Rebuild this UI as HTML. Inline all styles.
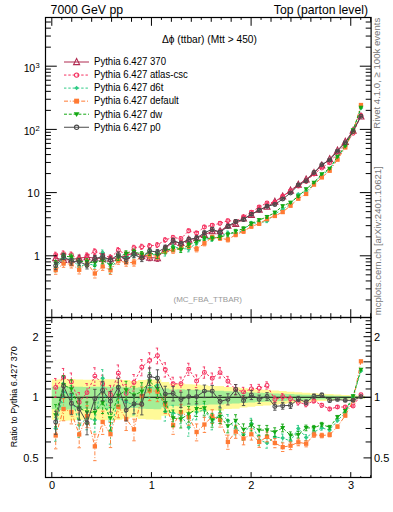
<!DOCTYPE html><html><head><meta charset="utf-8"><style>html,body{margin:0;padding:0;background:#fff;overflow:hidden}svg{display:block}</style></head><body><svg width="393" height="512" viewBox="0 0 393 512">
<defs><clipPath id="cm"><rect x="45.5" y="17.5" width="325.6" height="300.0"/></clipPath><clipPath id="cr"><rect x="45.5" y="317.5" width="325.6" height="160.0"/></clipPath></defs>
<rect width="393" height="512" fill="#fff"/>
<g clip-path="url(#cr)">
<polygon points="51.80,379.38 59.63,379.38 59.63,378.83 67.45,378.83 67.45,378.92 75.28,378.92 75.28,379.38 83.11,379.38 83.11,379.64 90.93,379.64 90.93,379.38 98.76,379.38 98.76,379.20 106.59,379.20 106.59,379.20 114.41,379.20 114.41,379.47 122.24,379.47 122.24,380.05 130.06,380.05 130.06,380.98 137.89,380.98 137.89,379.97 145.72,379.97 145.72,379.55 153.54,379.55 153.54,379.38 161.37,379.38 161.37,381.99 169.20,381.99 169.20,383.66 177.02,383.66 177.02,383.39 184.85,383.39 184.85,384.13 192.68,384.13 192.68,384.45 200.50,384.45 200.50,385.17 208.33,385.17 208.33,385.89 216.16,385.89 216.16,385.91 223.98,385.91 223.98,386.93 231.81,386.93 231.81,387.24 239.64,387.24 239.64,388.14 247.46,388.14 247.46,388.70 255.29,388.70 255.29,389.43 263.12,389.43 263.12,389.84 270.94,389.84 270.94,390.47 278.77,390.47 278.77,391.06 286.59,391.06 286.59,391.68 294.42,391.68 294.42,392.24 302.25,392.24 302.25,392.68 310.07,392.68 310.07,393.19 317.90,393.19 317.90,393.70 325.73,393.70 325.73,394.09 333.55,394.09 333.55,394.54 341.38,394.54 341.38,394.94 349.21,394.94 349.21,395.37 357.03,395.37 357.03,395.81 364.86,395.81 364.86,398.82 357.03,398.82 357.03,399.27 349.21,399.27 349.21,399.72 341.38,399.72 341.38,400.15 333.55,400.15 333.55,400.63 325.73,400.63 325.73,401.06 317.90,401.06 317.90,401.62 310.07,401.62 310.07,402.17 302.25,402.17 302.25,402.67 294.42,402.67 294.42,403.31 286.59,403.31 286.59,404.02 278.77,404.02 278.77,404.71 270.94,404.71 270.94,405.46 263.12,405.46 263.12,405.95 255.29,405.95 255.29,406.85 247.46,406.85 247.46,407.54 239.64,407.54 239.64,408.67 231.81,408.67 231.81,409.07 223.98,409.07 223.98,410.40 216.16,410.40 216.16,410.42 208.33,410.42 208.33,411.39 200.50,411.39 200.50,412.37 192.68,412.37 192.68,412.82 184.85,412.82 184.85,413.85 177.02,413.85 177.02,413.47 169.20,413.47 169.20,415.87 161.37,415.87 161.37,419.86 153.54,419.86 153.54,419.59 145.72,419.59 145.72,418.94 137.89,418.94 137.89,417.38 130.06,417.38 130.06,418.82 122.24,418.82 122.24,419.73 114.41,419.73 114.41,420.15 106.59,420.15 106.59,420.15 98.76,420.15 98.76,419.86 90.93,419.86 90.93,419.46 83.11,419.46 83.11,419.86 75.28,419.86 75.28,420.60 67.45,420.60 67.45,420.75 59.63,420.75 59.63,419.86 51.80,419.86" fill="#fffa98" stroke="none"/>
<polygon points="51.80,386.82 59.63,386.82 59.63,386.48 67.45,386.48 67.45,386.54 75.28,386.54 75.28,386.82 83.11,386.82 83.11,386.97 90.93,386.97 90.93,386.82 98.76,386.82 98.76,386.71 106.59,386.71 106.59,386.71 114.41,386.71 114.41,386.87 122.24,386.87 122.24,387.22 130.06,387.22 130.06,387.79 137.89,387.79 137.89,387.17 145.72,387.17 145.72,386.92 153.54,386.92 153.54,386.82 161.37,386.82 161.37,388.40 169.20,388.40 169.20,389.40 177.02,389.40 177.02,389.24 184.85,389.24 184.85,389.68 192.68,389.68 192.68,389.87 200.50,389.87 200.50,390.30 208.33,390.30 208.33,390.73 216.16,390.73 216.16,390.74 223.98,390.74 223.98,391.34 231.81,391.34 231.81,391.52 239.64,391.52 239.64,392.05 247.46,392.05 247.46,392.38 255.29,392.38 255.29,392.80 263.12,392.80 263.12,393.04 270.94,393.04 270.94,393.41 278.77,393.41 278.77,393.75 286.59,393.75 286.59,394.11 294.42,394.11 294.42,394.43 302.25,394.43 302.25,394.69 310.07,394.69 310.07,394.97 317.90,394.97 317.90,395.26 325.73,395.26 325.73,395.49 333.55,395.49 333.55,395.75 341.38,395.75 341.38,395.97 349.21,395.97 349.21,396.22 357.03,396.22 357.03,396.46 364.86,396.46 364.86,398.15 357.03,398.15 357.03,398.40 349.21,398.40 349.21,398.65 341.38,398.65 341.38,398.88 333.55,398.88 333.55,399.15 325.73,399.15 325.73,399.38 317.90,399.38 317.90,399.69 310.07,399.69 310.07,400.00 302.25,400.00 302.25,400.27 294.42,400.27 294.42,400.61 286.59,400.61 286.59,401.00 278.77,401.00 278.77,401.37 270.94,401.37 270.94,401.77 263.12,401.77 263.12,402.04 255.29,402.04 255.29,402.52 247.46,402.52 247.46,402.88 239.64,402.88 239.64,403.49 231.81,403.49 231.81,403.70 223.98,403.70 223.98,404.39 216.16,404.39 216.16,404.41 208.33,404.41 208.33,404.91 200.50,404.91 200.50,405.42 192.68,405.42 192.68,405.65 184.85,405.65 184.85,406.18 177.02,406.18 177.02,405.98 169.20,405.98 169.20,407.21 161.37,407.21 161.37,409.21 153.54,409.21 153.54,409.08 145.72,409.08 145.72,408.75 137.89,408.75 137.89,407.98 130.06,407.98 130.06,408.69 122.24,408.69 122.24,409.14 114.41,409.14 114.41,409.35 106.59,409.35 106.59,409.35 98.76,409.35 98.76,409.21 90.93,409.21 90.93,409.01 83.11,409.01 83.11,409.21 75.28,409.21 75.28,409.58 67.45,409.58 67.45,409.65 59.63,409.65 59.63,409.21 51.80,409.21" fill="#a4ee96" stroke="none"/>
</g>
<line x1="45.5" y1="397.30" x2="371.1" y2="397.30" stroke="#000" stroke-width="1.1"/>
<g clip-path="url(#cr)"><polyline points="55.71,387.40 63.54,377.20 71.37,381.90 79.19,402.20 87.02,392.60 94.85,376.10 102.67,384.00 110.50,394.80 118.33,373.20 126.15,393.40 133.98,382.40 141.80,367.30 149.63,360.40 157.46,355.60 165.28,369.60 173.11,383.80 180.94,383.80 188.76,369.10 196.59,381.00 204.42,372.40 212.24,378.30 220.07,372.60 227.90,381.30 235.72,389.50 243.55,391.90 251.38,388.90 259.20,388.20 267.03,385.40 274.86,399.50 282.68,396.80 290.51,398.90 298.33,402.30 306.16,404.30 313.99,400.90 321.81,405.30 329.64,409.00 337.47,407.00 345.29,407.00 353.12,406.00 360.95,394.80" fill="none" stroke="#f5305f" stroke-width="1" stroke-dasharray="2.4 1.9"/><path d="M55.71,378.48V397.34M54.01,378.48H57.41M54.01,397.34H57.41M63.54,368.48V386.89M61.84,368.48H65.24M61.84,386.89H65.24M71.37,373.00V391.80M69.67,373.00H73.07M69.67,391.80H73.07M79.19,392.53V413.08M77.49,392.53H80.89M77.49,413.08H80.89M87.02,383.56V402.69M85.32,383.56H88.72M85.32,402.69H88.72M94.85,367.71V385.38M93.15,367.71H96.55M93.15,385.38H96.55M102.67,375.15V393.85M100.97,375.15H104.37M100.97,393.85H104.37M110.50,385.41V405.32M108.80,385.41H112.20M108.80,405.32H112.20M118.33,364.98V382.27M116.63,364.98H120.03M116.63,382.27H120.03M126.15,384.54V403.26M124.45,384.54H127.85M124.45,403.26H127.85M133.98,374.53V391.05M132.28,374.53H135.68M132.28,391.05H135.68M141.80,359.58V375.77M140.10,359.58H143.50M140.10,375.77H143.50M149.63,352.78V368.75M147.93,352.78H151.33M147.93,368.75H151.33M157.46,348.10V363.81M155.76,348.10H159.16M155.76,363.81H159.16M165.28,362.74V377.05M163.58,362.74H166.98M163.58,377.05H166.98M173.11,377.22V390.91M171.41,377.22H174.81M171.41,390.91H174.81M180.94,377.08V391.07M179.24,377.08H182.64M179.24,391.07H182.64M188.76,363.25V375.37M187.06,363.25H190.46M187.06,375.37H190.46M196.59,374.91V387.54M194.89,374.91H198.29M194.89,387.54H198.29M204.42,366.93V378.23M202.72,366.93H206.12M202.72,378.23H206.12M212.24,373.00V383.94M210.54,373.00H213.94M210.54,383.94H213.94M220.07,367.47V378.05M218.37,367.47H221.77M218.37,378.05H221.77M227.90,376.41V386.48M226.20,376.41H229.60M226.20,386.48H229.60M235.72,384.54V394.75M234.02,384.54H237.42M234.02,394.75H237.42M243.55,387.34V396.71M241.85,387.34H245.25M241.85,396.71H245.25M251.38,384.69V393.32M249.68,384.69H253.08M249.68,393.32H253.08M259.20,384.37V392.20M257.50,384.37H260.90M257.50,392.20H260.90M267.03,381.84V389.12M265.33,381.84H268.73M265.33,389.12H268.73M274.86,395.97V403.18M273.16,395.97H276.56M273.16,403.18H276.56M282.68,393.63V400.09M280.98,393.63H284.38M280.98,400.09H284.38M290.51,396.02V401.88M288.81,396.02H292.21M288.81,401.88H292.21M298.33,399.66V405.02M296.63,399.66H300.03M296.63,405.02H300.03M306.16,401.87V406.80M304.46,401.87H307.86M304.46,406.80H307.86M313.99,398.78V403.08M312.29,398.78H315.69M312.29,403.08H315.69M321.81,403.40V407.25M320.11,403.40H323.51M320.11,407.25H323.51M329.64,407.27V410.77M327.94,407.27H331.34M327.94,410.77H331.34M337.47,405.53V408.49M335.77,405.53H339.17M335.77,408.49H339.17M345.29,405.75V408.27M343.59,405.75H346.99M343.59,408.27H346.99M353.12,404.98V407.03M351.42,404.98H354.82M351.42,407.03H354.82M360.95,394.06V395.54M359.25,394.06H362.65M359.25,395.54H362.65" fill="none" stroke="#f5305f" stroke-width="0.9" stroke-dasharray="2.4 1.9"/><circle cx="55.71" cy="387.40" r="1.95" fill="none" stroke="#f5305f" stroke-width="1.05"/><circle cx="63.54" cy="377.20" r="1.95" fill="none" stroke="#f5305f" stroke-width="1.05"/><circle cx="71.37" cy="381.90" r="1.95" fill="none" stroke="#f5305f" stroke-width="1.05"/><circle cx="79.19" cy="402.20" r="1.95" fill="none" stroke="#f5305f" stroke-width="1.05"/><circle cx="87.02" cy="392.60" r="1.95" fill="none" stroke="#f5305f" stroke-width="1.05"/><circle cx="94.85" cy="376.10" r="1.95" fill="none" stroke="#f5305f" stroke-width="1.05"/><circle cx="102.67" cy="384.00" r="1.95" fill="none" stroke="#f5305f" stroke-width="1.05"/><circle cx="110.50" cy="394.80" r="1.95" fill="none" stroke="#f5305f" stroke-width="1.05"/><circle cx="118.33" cy="373.20" r="1.95" fill="none" stroke="#f5305f" stroke-width="1.05"/><circle cx="126.15" cy="393.40" r="1.95" fill="none" stroke="#f5305f" stroke-width="1.05"/><circle cx="133.98" cy="382.40" r="1.95" fill="none" stroke="#f5305f" stroke-width="1.05"/><circle cx="141.80" cy="367.30" r="1.95" fill="none" stroke="#f5305f" stroke-width="1.05"/><circle cx="149.63" cy="360.40" r="1.95" fill="none" stroke="#f5305f" stroke-width="1.05"/><circle cx="157.46" cy="355.60" r="1.95" fill="none" stroke="#f5305f" stroke-width="1.05"/><circle cx="165.28" cy="369.60" r="1.95" fill="none" stroke="#f5305f" stroke-width="1.05"/><circle cx="173.11" cy="383.80" r="1.95" fill="none" stroke="#f5305f" stroke-width="1.05"/><circle cx="180.94" cy="383.80" r="1.95" fill="none" stroke="#f5305f" stroke-width="1.05"/><circle cx="188.76" cy="369.10" r="1.95" fill="none" stroke="#f5305f" stroke-width="1.05"/><circle cx="196.59" cy="381.00" r="1.95" fill="none" stroke="#f5305f" stroke-width="1.05"/><circle cx="204.42" cy="372.40" r="1.95" fill="none" stroke="#f5305f" stroke-width="1.05"/><circle cx="212.24" cy="378.30" r="1.95" fill="none" stroke="#f5305f" stroke-width="1.05"/><circle cx="220.07" cy="372.60" r="1.95" fill="none" stroke="#f5305f" stroke-width="1.05"/><circle cx="227.90" cy="381.30" r="1.95" fill="none" stroke="#f5305f" stroke-width="1.05"/><circle cx="235.72" cy="389.50" r="1.95" fill="none" stroke="#f5305f" stroke-width="1.05"/><circle cx="243.55" cy="391.90" r="1.95" fill="none" stroke="#f5305f" stroke-width="1.05"/><circle cx="251.38" cy="388.90" r="1.95" fill="none" stroke="#f5305f" stroke-width="1.05"/><circle cx="259.20" cy="388.20" r="1.95" fill="none" stroke="#f5305f" stroke-width="1.05"/><circle cx="267.03" cy="385.40" r="1.95" fill="none" stroke="#f5305f" stroke-width="1.05"/><circle cx="274.86" cy="399.50" r="1.95" fill="none" stroke="#f5305f" stroke-width="1.05"/><circle cx="282.68" cy="396.80" r="1.95" fill="none" stroke="#f5305f" stroke-width="1.05"/><circle cx="290.51" cy="398.90" r="1.95" fill="none" stroke="#f5305f" stroke-width="1.05"/><circle cx="298.33" cy="402.30" r="1.95" fill="none" stroke="#f5305f" stroke-width="1.05"/><circle cx="306.16" cy="404.30" r="1.95" fill="none" stroke="#f5305f" stroke-width="1.05"/><circle cx="313.99" cy="400.90" r="1.95" fill="none" stroke="#f5305f" stroke-width="1.05"/><circle cx="321.81" cy="405.30" r="1.95" fill="none" stroke="#f5305f" stroke-width="1.05"/><circle cx="329.64" cy="409.00" r="1.95" fill="none" stroke="#f5305f" stroke-width="1.05"/><circle cx="337.47" cy="407.00" r="1.95" fill="none" stroke="#f5305f" stroke-width="1.05"/><circle cx="345.29" cy="407.00" r="1.95" fill="none" stroke="#f5305f" stroke-width="1.05"/><circle cx="353.12" cy="406.00" r="1.95" fill="none" stroke="#f5305f" stroke-width="1.05"/><circle cx="360.95" cy="394.80" r="1.95" fill="none" stroke="#f5305f" stroke-width="1.05"/></g>
<g clip-path="url(#cr)"><polyline points="55.71,428.50 63.54,392.00 71.37,395.00 79.19,425.00 87.02,418.00 94.85,420.00 102.67,378.20 110.50,431.00 118.33,398.00 126.15,402.00 133.98,405.00 141.80,395.00 149.63,388.00 157.46,385.00 165.28,411.50 173.11,413.00 180.94,415.00 188.76,427.30 196.59,412.00 204.42,410.00 212.24,422.50 220.07,413.00 227.90,420.60 235.72,428.20 243.55,434.30 251.38,423.40 259.20,440.00 267.03,443.00 274.86,437.00 282.68,438.00 290.51,441.00 298.33,428.50 306.16,437.50 313.99,432.00 321.81,428.00 329.64,430.00 337.47,420.40 345.29,413.00 353.12,397.00 360.95,371.00" fill="none" stroke="#2ecb85" stroke-width="1" stroke-dasharray="2.4 1.9"/><path d="M55.71,417.36V441.28M54.01,417.36H57.41M54.01,441.28H57.41M63.54,382.55V402.59M61.84,382.55H65.24M61.84,402.59H65.24M71.37,385.45V405.72M69.67,385.45H73.07M69.67,405.72H73.07M79.19,414.06V437.50M77.49,414.06H80.89M77.49,437.50H80.89M87.02,407.63V429.77M85.32,407.63H88.72M85.32,429.77H88.72M94.85,409.35V432.13M93.15,409.35H96.55M93.15,432.13H96.55M102.67,369.62V387.71M100.97,369.62H104.37M100.97,387.71H104.37M110.50,419.59V444.13M108.80,419.59H112.20M108.80,444.13H112.20M118.33,388.59V408.54M116.63,388.59H120.03M116.63,408.54H120.03M126.15,392.71V412.39M124.45,392.71H127.85M124.45,412.39H127.85M133.98,396.09V414.92M132.28,396.09H135.68M132.28,414.92H135.68M141.80,386.02V405.01M140.10,386.02H143.50M140.10,405.01H143.50M149.63,379.14V397.86M147.93,379.14H151.33M147.93,397.86H151.33M157.46,376.19V394.80M155.76,376.19H159.16M155.76,394.80H159.16M165.28,402.87V421.08M163.58,402.87H166.98M163.58,421.08H166.98M173.11,405.28V421.47M171.41,405.28H174.81M171.41,421.47H174.81M180.94,407.03V423.77M179.24,407.03H182.64M179.24,423.77H182.64M188.76,419.24V436.18M187.06,419.24H190.46M187.06,436.18H190.46M196.59,404.78V419.87M194.89,404.78H198.29M194.89,419.87H198.29M204.42,403.27V417.29M202.72,403.27H206.12M202.72,417.29H206.12M212.24,415.73V429.84M210.54,415.73H213.94M210.54,429.84H213.94M220.07,406.59V419.92M218.37,406.59H221.77M218.37,419.92H221.77M227.90,414.52V427.13M226.20,414.52H229.60M226.20,427.13H229.60M235.72,422.06V434.81M234.02,422.06H237.42M234.02,434.81H237.42M243.55,428.53V440.48M241.85,428.53H245.25M241.85,440.48H245.25M251.38,418.30V428.81M249.68,418.30H253.08M249.68,428.81H253.08M259.20,434.89V445.42M257.50,434.89H260.90M257.50,445.42H260.90M267.03,438.08V448.21M265.33,438.08H268.73M265.33,448.21H268.73M274.86,432.65V441.58M273.16,432.65H276.56M273.16,441.58H276.56M282.68,434.01V442.18M280.98,434.01H284.38M280.98,442.18H284.38M290.51,437.35V444.81M288.81,437.35H292.21M288.81,444.81H292.21M298.33,425.44V431.67M296.63,425.44H300.03M296.63,431.67H300.03M306.16,434.57V440.53M304.46,434.57H307.86M304.46,440.53H307.86M313.99,429.47V434.61M312.29,429.47H315.69M312.29,434.61H315.69M321.81,425.84V430.22M320.11,425.84H323.51M320.11,430.22H323.51M329.64,428.05V431.99M327.94,428.05H331.34M327.94,431.99H331.34M337.47,418.82V422.01M335.77,418.82H339.17M335.77,422.01H339.17M345.29,411.70V414.32M343.59,411.70H346.99M343.59,414.32H346.99M353.12,396.03V397.98M351.42,396.03H354.82M351.42,397.98H354.82M360.95,370.36V371.65M359.25,370.36H362.65M359.25,371.65H362.65" fill="none" stroke="#2ecb85" stroke-width="0.9" stroke-dasharray="2.4 1.9"/><path d="M55.71,426.15 L58.06,428.50 L55.71,430.85 L53.36,428.50 Z" fill="#2ecb85"/><path d="M63.54,389.65 L65.89,392.00 L63.54,394.35 L61.19,392.00 Z" fill="#2ecb85"/><path d="M71.37,392.65 L73.72,395.00 L71.37,397.35 L69.02,395.00 Z" fill="#2ecb85"/><path d="M79.19,422.65 L81.54,425.00 L79.19,427.35 L76.84,425.00 Z" fill="#2ecb85"/><path d="M87.02,415.65 L89.37,418.00 L87.02,420.35 L84.67,418.00 Z" fill="#2ecb85"/><path d="M94.85,417.65 L97.20,420.00 L94.85,422.35 L92.50,420.00 Z" fill="#2ecb85"/><path d="M102.67,375.85 L105.02,378.20 L102.67,380.55 L100.32,378.20 Z" fill="#2ecb85"/><path d="M110.50,428.65 L112.85,431.00 L110.50,433.35 L108.15,431.00 Z" fill="#2ecb85"/><path d="M118.33,395.65 L120.68,398.00 L118.33,400.35 L115.98,398.00 Z" fill="#2ecb85"/><path d="M126.15,399.65 L128.50,402.00 L126.15,404.35 L123.80,402.00 Z" fill="#2ecb85"/><path d="M133.98,402.65 L136.33,405.00 L133.98,407.35 L131.63,405.00 Z" fill="#2ecb85"/><path d="M141.80,392.65 L144.15,395.00 L141.80,397.35 L139.45,395.00 Z" fill="#2ecb85"/><path d="M149.63,385.65 L151.98,388.00 L149.63,390.35 L147.28,388.00 Z" fill="#2ecb85"/><path d="M157.46,382.65 L159.81,385.00 L157.46,387.35 L155.11,385.00 Z" fill="#2ecb85"/><path d="M165.28,409.15 L167.63,411.50 L165.28,413.85 L162.93,411.50 Z" fill="#2ecb85"/><path d="M173.11,410.65 L175.46,413.00 L173.11,415.35 L170.76,413.00 Z" fill="#2ecb85"/><path d="M180.94,412.65 L183.29,415.00 L180.94,417.35 L178.59,415.00 Z" fill="#2ecb85"/><path d="M188.76,424.95 L191.11,427.30 L188.76,429.65 L186.41,427.30 Z" fill="#2ecb85"/><path d="M196.59,409.65 L198.94,412.00 L196.59,414.35 L194.24,412.00 Z" fill="#2ecb85"/><path d="M204.42,407.65 L206.77,410.00 L204.42,412.35 L202.07,410.00 Z" fill="#2ecb85"/><path d="M212.24,420.15 L214.59,422.50 L212.24,424.85 L209.89,422.50 Z" fill="#2ecb85"/><path d="M220.07,410.65 L222.42,413.00 L220.07,415.35 L217.72,413.00 Z" fill="#2ecb85"/><path d="M227.90,418.25 L230.25,420.60 L227.90,422.95 L225.55,420.60 Z" fill="#2ecb85"/><path d="M235.72,425.85 L238.07,428.20 L235.72,430.55 L233.37,428.20 Z" fill="#2ecb85"/><path d="M243.55,431.95 L245.90,434.30 L243.55,436.65 L241.20,434.30 Z" fill="#2ecb85"/><path d="M251.38,421.05 L253.73,423.40 L251.38,425.75 L249.03,423.40 Z" fill="#2ecb85"/><path d="M259.20,437.65 L261.55,440.00 L259.20,442.35 L256.85,440.00 Z" fill="#2ecb85"/><path d="M267.03,440.65 L269.38,443.00 L267.03,445.35 L264.68,443.00 Z" fill="#2ecb85"/><path d="M274.86,434.65 L277.21,437.00 L274.86,439.35 L272.51,437.00 Z" fill="#2ecb85"/><path d="M282.68,435.65 L285.03,438.00 L282.68,440.35 L280.33,438.00 Z" fill="#2ecb85"/><path d="M290.51,438.65 L292.86,441.00 L290.51,443.35 L288.16,441.00 Z" fill="#2ecb85"/><path d="M298.33,426.15 L300.68,428.50 L298.33,430.85 L295.98,428.50 Z" fill="#2ecb85"/><path d="M306.16,435.15 L308.51,437.50 L306.16,439.85 L303.81,437.50 Z" fill="#2ecb85"/><path d="M313.99,429.65 L316.34,432.00 L313.99,434.35 L311.64,432.00 Z" fill="#2ecb85"/><path d="M321.81,425.65 L324.16,428.00 L321.81,430.35 L319.46,428.00 Z" fill="#2ecb85"/><path d="M329.64,427.65 L331.99,430.00 L329.64,432.35 L327.29,430.00 Z" fill="#2ecb85"/><path d="M337.47,418.05 L339.82,420.40 L337.47,422.75 L335.12,420.40 Z" fill="#2ecb85"/><path d="M345.29,410.65 L347.64,413.00 L345.29,415.35 L342.94,413.00 Z" fill="#2ecb85"/><path d="M353.12,394.65 L355.47,397.00 L353.12,399.35 L350.77,397.00 Z" fill="#2ecb85"/><path d="M360.95,368.65 L363.30,371.00 L360.95,373.35 L358.60,371.00 Z" fill="#2ecb85"/></g>
<g clip-path="url(#cr)"><polyline points="55.71,435.50 63.54,409.00 71.37,412.00 79.19,434.50 87.02,416.00 94.85,446.40 102.67,422.00 110.50,434.20 118.33,406.70 126.15,419.00 133.98,429.30 141.80,396.00 149.63,390.60 157.46,391.50 165.28,404.30 173.11,425.20 180.94,412.20 188.76,417.00 196.59,432.00 204.42,424.50 212.24,416.30 220.07,419.90 227.90,441.90 235.72,431.60 243.55,438.50 251.38,434.30 259.20,441.90 267.03,436.80 274.86,443.00 282.68,447.10 290.51,445.70 298.33,442.30 306.16,443.70 313.99,434.70 321.81,435.50 329.64,434.80 337.47,426.60 345.29,415.60 353.12,400.50 360.95,361.30" fill="none" stroke="#ff7a33" stroke-width="1" stroke-dasharray="4 1.8 1 1.8"/><path d="M55.71,423.93V448.84M54.01,423.93H57.41M54.01,448.84H57.41M63.54,398.64V420.75M61.84,398.64H65.24M61.84,420.75H65.24M71.37,401.53V423.90M69.67,401.53H73.07M69.67,423.90H73.07M79.19,422.99V447.76M77.49,422.99H80.89M77.49,447.76H80.89M87.02,405.74V427.63M85.32,405.74H88.72M85.32,427.63H88.72M94.85,434.13V460.67M93.15,434.13H96.55M93.15,460.67H96.55M102.67,411.13V434.42M100.97,411.13H104.37M100.97,434.42H104.37M110.50,422.59V447.59M108.80,422.59H112.20M108.80,447.59H112.20M118.33,396.84V417.81M116.63,396.84H120.03M116.63,417.81H120.03M126.15,408.82V430.53M124.45,408.82H127.85M124.45,430.53H127.85M133.98,419.14V440.80M132.28,419.14H135.68M132.28,440.80H135.68M141.80,386.97V406.07M140.10,386.97H143.50M140.10,406.07H143.50M149.63,381.61V400.62M147.93,381.61H151.33M147.93,400.62H151.33M157.46,382.37V401.69M155.76,382.37H159.16M155.76,401.69H159.16M165.28,396.00V413.47M163.58,396.00H166.98M163.58,413.47H166.98M173.11,416.94V434.32M171.41,416.94H174.81M171.41,434.32H174.81M180.94,404.35V420.82M179.24,404.35H182.64M179.24,420.82H182.64M188.76,409.38V425.34M187.06,409.38H190.46M187.06,425.34H190.46M196.59,423.94V440.87M194.89,423.94H198.29M194.89,440.87H198.29M204.42,417.21V432.45M202.72,417.21H206.12M202.72,432.45H206.12M212.24,409.76V423.37M210.54,409.76H213.94M210.54,423.37H213.94M220.07,413.24V427.11M218.37,413.24H221.77M218.37,427.11H221.77M227.90,435.07V449.31M226.20,435.07H229.60M226.20,449.31H229.60M235.72,425.34V438.34M234.02,425.34H237.42M234.02,438.34H237.42M243.55,432.59V444.84M241.85,432.59H245.25M241.85,444.84H245.25M251.38,428.88V440.07M249.68,428.88H253.08M249.68,440.07H253.08M259.20,436.74V447.39M257.50,436.74H260.90M257.50,447.39H260.90M267.03,432.05V441.82M265.33,432.05H268.73M265.33,441.82H268.73M274.86,438.50V447.74M273.16,438.50H276.56M273.16,447.74H276.56M282.68,442.90V451.51M280.98,442.90H284.38M280.98,451.51H284.38M290.51,441.95V449.61M288.81,441.95H292.21M288.81,449.61H292.21M298.33,438.99V445.74M296.63,438.99H300.03M296.63,445.74H300.03M306.16,440.66V446.85M304.46,440.66H307.86M304.46,446.85H307.86M313.99,432.13V437.35M312.29,432.13H315.69M312.29,437.35H315.69M321.81,433.24V437.82M320.11,433.24H323.51M320.11,437.82H323.51M329.64,432.80V436.85M327.94,432.80H331.34M327.94,436.85H331.34M337.47,424.96V428.27M335.77,424.96H339.17M335.77,428.27H339.17M345.29,414.28V416.94M343.59,414.28H346.99M343.59,416.94H346.99M353.12,399.51V401.50M351.42,399.51H354.82M351.42,401.50H354.82M360.95,360.69V361.91M359.25,360.69H362.65M359.25,361.91H362.65" fill="none" stroke="#ff7a33" stroke-width="0.9" stroke-dasharray="4 1.8 1 1.8"/><rect x="53.56" y="433.35" width="4.30" height="4.30" fill="#ff7a33"/><rect x="61.39" y="406.85" width="4.30" height="4.30" fill="#ff7a33"/><rect x="69.22" y="409.85" width="4.30" height="4.30" fill="#ff7a33"/><rect x="77.04" y="432.35" width="4.30" height="4.30" fill="#ff7a33"/><rect x="84.87" y="413.85" width="4.30" height="4.30" fill="#ff7a33"/><rect x="92.70" y="444.25" width="4.30" height="4.30" fill="#ff7a33"/><rect x="100.52" y="419.85" width="4.30" height="4.30" fill="#ff7a33"/><rect x="108.35" y="432.05" width="4.30" height="4.30" fill="#ff7a33"/><rect x="116.18" y="404.55" width="4.30" height="4.30" fill="#ff7a33"/><rect x="124.00" y="416.85" width="4.30" height="4.30" fill="#ff7a33"/><rect x="131.83" y="427.15" width="4.30" height="4.30" fill="#ff7a33"/><rect x="139.65" y="393.85" width="4.30" height="4.30" fill="#ff7a33"/><rect x="147.48" y="388.45" width="4.30" height="4.30" fill="#ff7a33"/><rect x="155.31" y="389.35" width="4.30" height="4.30" fill="#ff7a33"/><rect x="163.13" y="402.15" width="4.30" height="4.30" fill="#ff7a33"/><rect x="170.96" y="423.05" width="4.30" height="4.30" fill="#ff7a33"/><rect x="178.79" y="410.05" width="4.30" height="4.30" fill="#ff7a33"/><rect x="186.61" y="414.85" width="4.30" height="4.30" fill="#ff7a33"/><rect x="194.44" y="429.85" width="4.30" height="4.30" fill="#ff7a33"/><rect x="202.27" y="422.35" width="4.30" height="4.30" fill="#ff7a33"/><rect x="210.09" y="414.15" width="4.30" height="4.30" fill="#ff7a33"/><rect x="217.92" y="417.75" width="4.30" height="4.30" fill="#ff7a33"/><rect x="225.75" y="439.75" width="4.30" height="4.30" fill="#ff7a33"/><rect x="233.57" y="429.45" width="4.30" height="4.30" fill="#ff7a33"/><rect x="241.40" y="436.35" width="4.30" height="4.30" fill="#ff7a33"/><rect x="249.23" y="432.15" width="4.30" height="4.30" fill="#ff7a33"/><rect x="257.05" y="439.75" width="4.30" height="4.30" fill="#ff7a33"/><rect x="264.88" y="434.65" width="4.30" height="4.30" fill="#ff7a33"/><rect x="272.71" y="440.85" width="4.30" height="4.30" fill="#ff7a33"/><rect x="280.53" y="444.95" width="4.30" height="4.30" fill="#ff7a33"/><rect x="288.36" y="443.55" width="4.30" height="4.30" fill="#ff7a33"/><rect x="296.18" y="440.15" width="4.30" height="4.30" fill="#ff7a33"/><rect x="304.01" y="441.55" width="4.30" height="4.30" fill="#ff7a33"/><rect x="311.84" y="432.55" width="4.30" height="4.30" fill="#ff7a33"/><rect x="319.66" y="433.35" width="4.30" height="4.30" fill="#ff7a33"/><rect x="327.49" y="432.65" width="4.30" height="4.30" fill="#ff7a33"/><rect x="335.32" y="424.45" width="4.30" height="4.30" fill="#ff7a33"/><rect x="343.14" y="413.45" width="4.30" height="4.30" fill="#ff7a33"/><rect x="350.97" y="398.35" width="4.30" height="4.30" fill="#ff7a33"/><rect x="358.80" y="359.15" width="4.30" height="4.30" fill="#ff7a33"/></g>
<g clip-path="url(#cr)"><polyline points="55.71,415.00 63.54,384.80 71.37,389.00 79.19,408.00 87.02,412.00 94.85,412.50 102.67,402.50 110.50,418.00 118.33,395.60 126.15,390.00 133.98,395.20 141.80,391.50 149.63,381.40 157.46,388.50 165.28,402.70 173.11,418.00 180.94,419.00 188.76,414.00 196.59,408.80 204.42,408.00 212.24,420.00 220.07,416.50 227.90,426.10 235.72,420.60 243.55,429.50 251.38,425.40 259.20,430.20 267.03,430.00 274.86,432.00 282.68,427.90 290.51,435.40 298.33,434.70 306.16,427.90 313.99,427.90 321.81,424.50 329.64,427.30 337.47,417.00 345.29,410.80 353.12,396.00 360.95,369.50" fill="none" stroke="#14a814" stroke-width="1" stroke-dasharray="3 1.8"/><path d="M55.71,404.64V426.76M54.01,404.64H57.41M54.01,426.76H57.41M63.54,375.71V394.94M61.84,375.71H65.24M61.84,394.94H65.24M71.37,379.76V399.34M69.67,379.76H73.07M69.67,399.34H73.07M79.19,398.02V419.27M77.49,398.02H80.89M77.49,419.27H80.89M87.02,401.96V423.35M85.32,401.96H88.72M85.32,423.35H88.72M94.85,402.28V424.08M93.15,402.28H96.55M93.15,424.08H96.55M102.67,392.71V413.52M100.97,392.71H104.37M100.97,413.52H104.37M110.50,407.36V430.12M108.80,407.36H112.20M108.80,430.12H112.20M118.33,386.32V405.99M116.63,386.32H120.03M116.63,405.99H120.03M126.15,381.30V399.66M124.45,381.30H127.85M124.45,399.66H127.85M133.98,386.76V404.55M132.28,386.76H135.68M132.28,404.55H135.68M141.80,382.69V401.30M140.10,382.69H143.50M140.10,401.30H143.50M149.63,372.85V390.88M147.93,372.85H151.33M147.93,390.88H151.33M157.46,379.52V398.51M155.76,379.52H159.16M155.76,398.51H159.16M165.28,394.47V411.78M163.58,394.47H166.98M163.58,411.78H166.98M173.11,410.06V426.73M171.41,410.06H174.81M171.41,426.73H174.81M180.94,410.85V427.98M179.24,410.85H182.64M179.24,427.98H182.64M188.76,406.51V422.19M187.06,406.51H190.46M187.06,422.19H190.46M196.59,401.71V416.52M194.89,401.71H198.29M194.89,416.52H198.29M204.42,401.34V415.20M202.72,401.34H206.12M202.72,415.20H206.12M212.24,413.32V427.23M210.54,413.32H213.94M210.54,427.23H213.94M220.07,409.96V423.56M218.37,409.96H221.77M218.37,423.56H221.77M227.90,419.84V432.85M226.20,419.84H229.60M226.20,432.85H229.60M235.72,414.71V426.91M234.02,414.71H237.42M234.02,426.91H237.42M243.55,423.88V435.51M241.85,423.88H245.25M241.85,435.51H245.25M251.38,420.25V430.88M249.68,420.25H253.08M249.68,430.88H253.08M259.20,425.36V435.32M257.50,425.36H260.90M257.50,435.32H260.90M267.03,425.43V434.83M265.33,425.43H268.73M265.33,434.83H268.73M274.86,427.77V436.45M273.16,427.77H276.56M273.16,436.45H276.56M282.68,424.13V431.84M280.98,424.13H284.38M280.98,431.84H284.38M290.51,431.86V439.09M288.81,431.86H292.21M288.81,439.09H292.21M298.33,431.53V437.99M296.63,431.53H300.03M296.63,437.99H300.03M306.16,425.12V430.77M304.46,425.12H307.86M304.46,430.77H307.86M313.99,425.43V430.45M312.29,425.43H315.69M312.29,430.45H315.69M321.81,422.38V426.68M320.11,422.38H323.51M320.11,426.68H323.51M329.64,425.38V429.26M327.94,425.38H331.34M327.94,429.26H331.34M337.47,415.45V418.58M335.77,415.45H339.17M335.77,418.58H339.17M345.29,409.52V412.10M343.59,409.52H346.99M343.59,412.10H346.99M353.12,395.04V396.97M351.42,395.04H354.82M351.42,396.97H354.82M360.95,368.86V370.14M359.25,368.86H362.65M359.25,370.14H362.65" fill="none" stroke="#14a814" stroke-width="0.9" stroke-dasharray="3 1.8"/><path d="M53.21,413.20 L58.21,413.20 L55.71,417.50 Z" fill="#14a814"/><path d="M61.04,383.00 L66.04,383.00 L63.54,387.30 Z" fill="#14a814"/><path d="M68.87,387.20 L73.87,387.20 L71.37,391.50 Z" fill="#14a814"/><path d="M76.69,406.20 L81.69,406.20 L79.19,410.50 Z" fill="#14a814"/><path d="M84.52,410.20 L89.52,410.20 L87.02,414.50 Z" fill="#14a814"/><path d="M92.35,410.70 L97.35,410.70 L94.85,415.00 Z" fill="#14a814"/><path d="M100.17,400.70 L105.17,400.70 L102.67,405.00 Z" fill="#14a814"/><path d="M108.00,416.20 L113.00,416.20 L110.50,420.50 Z" fill="#14a814"/><path d="M115.83,393.80 L120.83,393.80 L118.33,398.10 Z" fill="#14a814"/><path d="M123.65,388.20 L128.65,388.20 L126.15,392.50 Z" fill="#14a814"/><path d="M131.48,393.40 L136.48,393.40 L133.98,397.70 Z" fill="#14a814"/><path d="M139.30,389.70 L144.30,389.70 L141.80,394.00 Z" fill="#14a814"/><path d="M147.13,379.60 L152.13,379.60 L149.63,383.90 Z" fill="#14a814"/><path d="M154.96,386.70 L159.96,386.70 L157.46,391.00 Z" fill="#14a814"/><path d="M162.78,400.90 L167.78,400.90 L165.28,405.20 Z" fill="#14a814"/><path d="M170.61,416.20 L175.61,416.20 L173.11,420.50 Z" fill="#14a814"/><path d="M178.44,417.20 L183.44,417.20 L180.94,421.50 Z" fill="#14a814"/><path d="M186.26,412.20 L191.26,412.20 L188.76,416.50 Z" fill="#14a814"/><path d="M194.09,407.00 L199.09,407.00 L196.59,411.30 Z" fill="#14a814"/><path d="M201.92,406.20 L206.92,406.20 L204.42,410.50 Z" fill="#14a814"/><path d="M209.74,418.20 L214.74,418.20 L212.24,422.50 Z" fill="#14a814"/><path d="M217.57,414.70 L222.57,414.70 L220.07,419.00 Z" fill="#14a814"/><path d="M225.40,424.30 L230.40,424.30 L227.90,428.60 Z" fill="#14a814"/><path d="M233.22,418.80 L238.22,418.80 L235.72,423.10 Z" fill="#14a814"/><path d="M241.05,427.70 L246.05,427.70 L243.55,432.00 Z" fill="#14a814"/><path d="M248.88,423.60 L253.88,423.60 L251.38,427.90 Z" fill="#14a814"/><path d="M256.70,428.40 L261.70,428.40 L259.20,432.70 Z" fill="#14a814"/><path d="M264.53,428.20 L269.53,428.20 L267.03,432.50 Z" fill="#14a814"/><path d="M272.36,430.20 L277.36,430.20 L274.86,434.50 Z" fill="#14a814"/><path d="M280.18,426.10 L285.18,426.10 L282.68,430.40 Z" fill="#14a814"/><path d="M288.01,433.60 L293.01,433.60 L290.51,437.90 Z" fill="#14a814"/><path d="M295.83,432.90 L300.83,432.90 L298.33,437.20 Z" fill="#14a814"/><path d="M303.66,426.10 L308.66,426.10 L306.16,430.40 Z" fill="#14a814"/><path d="M311.49,426.10 L316.49,426.10 L313.99,430.40 Z" fill="#14a814"/><path d="M319.31,422.70 L324.31,422.70 L321.81,427.00 Z" fill="#14a814"/><path d="M327.14,425.50 L332.14,425.50 L329.64,429.80 Z" fill="#14a814"/><path d="M334.97,415.20 L339.97,415.20 L337.47,419.50 Z" fill="#14a814"/><path d="M342.79,409.00 L347.79,409.00 L345.29,413.30 Z" fill="#14a814"/><path d="M350.62,394.20 L355.62,394.20 L353.12,398.50 Z" fill="#14a814"/><path d="M358.45,367.70 L363.45,367.70 L360.95,372.00 Z" fill="#14a814"/></g>
<g clip-path="url(#cr)"><polyline points="55.71,422.00 63.54,386.00 71.37,403.40 79.19,408.90 87.02,422.70 94.85,398.80 102.67,390.50 110.50,401.20 118.33,387.20 126.15,410.10 133.98,403.90 141.80,404.30 149.63,376.20 157.46,378.30 165.28,394.10 173.11,393.40 180.94,399.60 188.76,396.60 196.59,396.60 204.42,391.10 212.24,391.10 220.07,401.50 227.90,399.20 235.72,389.50 243.55,400.50 251.38,395.00 259.20,399.20 267.03,396.40 274.86,406.40 282.68,405.70 290.51,405.40 298.33,398.90 306.16,402.30 313.99,396.10 321.81,395.00 329.64,400.50 337.47,399.40 345.29,400.40 353.12,400.30 360.95,396.80" fill="none" stroke="#4a4a4a" stroke-width="1"/><path d="M55.71,411.24V434.28M54.01,411.24H57.41M54.01,434.28H57.41M63.54,376.85V396.22M61.84,376.85H65.24M61.84,396.22H65.24M71.37,393.41V414.69M69.67,393.41H73.07M69.67,414.69H73.07M79.19,398.87V420.23M77.49,398.87H80.89M77.49,420.23H80.89M87.02,412.06V434.82M85.32,412.06H88.72M85.32,434.82H88.72M94.85,389.31V409.45M93.15,389.31H96.55M93.15,409.45H96.55M102.67,381.33V400.75M100.97,381.33H104.37M100.97,400.75H104.37M110.50,391.48V412.14M108.80,391.48H112.20M108.80,412.14H112.20M118.33,378.33V397.07M116.63,378.33H120.03M116.63,397.07H120.03M126.15,400.40V421.02M124.45,400.40H127.85M124.45,421.02H127.85M133.98,395.05V413.75M132.28,395.05H135.68M132.28,413.75H135.68M141.80,394.85V414.89M140.10,394.85H143.50M140.10,414.89H143.50M149.63,367.89V385.39M147.93,367.89H151.33M147.93,385.39H151.33M157.46,369.81V387.71M155.76,369.81H159.16M155.76,387.71H159.16M165.28,386.25V402.73M163.58,386.25H166.98M163.58,402.73H166.98M173.11,386.46V400.93M171.41,386.46H174.81M171.41,400.93H174.81M180.94,392.28V407.59M179.24,392.28H182.64M179.24,407.59H182.64M188.76,389.79V403.98M187.06,389.79H190.46M187.06,403.98H190.46M196.59,389.97V403.78M194.89,389.97H198.29M194.89,403.78H198.29M204.42,385.04V397.61M202.72,385.04H206.12M202.72,397.61H206.12M212.24,385.41V397.19M210.54,385.41H213.94M210.54,397.19H213.94M220.07,395.48V407.96M218.37,395.48H221.77M218.37,407.96H221.77M227.90,393.80V404.95M226.20,393.80H229.60M226.20,404.95H229.60M235.72,384.54V394.75M234.02,384.54H237.42M234.02,394.75H237.42M243.55,395.71V405.56M241.85,395.71H245.25M241.85,405.56H245.25M251.38,390.65V399.58M249.68,390.65H253.08M249.68,399.58H253.08M259.20,395.13V403.47M257.50,395.13H260.90M257.50,403.47H260.90M267.03,392.61V400.36M265.33,392.61H268.73M265.33,400.36H268.73M274.86,402.73V410.23M273.16,402.73H276.56M273.16,410.23H276.56M282.68,402.37V409.16M280.98,402.37H284.38M280.98,409.16H284.38M290.51,402.41V408.49M288.81,402.41H292.21M288.81,408.49H292.21M298.33,396.31V401.57M296.63,396.31H300.03M296.63,401.57H300.03M306.16,399.89V404.77M304.46,399.89H307.86M304.46,404.77H307.86M313.99,394.03V398.22M312.29,394.03H315.69M312.29,398.22H315.69M321.81,393.20V396.83M320.11,393.20H323.51M320.11,396.83H323.51M329.64,398.85V402.18M327.94,398.85H331.34M327.94,402.18H331.34M337.47,397.99V400.83M335.77,397.99H339.17M335.77,400.83H339.17M345.29,399.19V401.62M343.59,399.19H346.99M343.59,401.62H346.99M353.12,399.32V401.30M351.42,399.32H354.82M351.42,401.30H354.82M360.95,396.05V397.55M359.25,396.05H362.65M359.25,397.55H362.65" fill="none" stroke="#4a4a4a" stroke-width="0.9"/><circle cx="55.71" cy="422.00" r="1.95" fill="none" stroke="#4a4a4a" stroke-width="1.05"/><circle cx="63.54" cy="386.00" r="1.95" fill="none" stroke="#4a4a4a" stroke-width="1.05"/><circle cx="71.37" cy="403.40" r="1.95" fill="none" stroke="#4a4a4a" stroke-width="1.05"/><circle cx="79.19" cy="408.90" r="1.95" fill="none" stroke="#4a4a4a" stroke-width="1.05"/><circle cx="87.02" cy="422.70" r="1.95" fill="none" stroke="#4a4a4a" stroke-width="1.05"/><circle cx="94.85" cy="398.80" r="1.95" fill="none" stroke="#4a4a4a" stroke-width="1.05"/><circle cx="102.67" cy="390.50" r="1.95" fill="none" stroke="#4a4a4a" stroke-width="1.05"/><circle cx="110.50" cy="401.20" r="1.95" fill="none" stroke="#4a4a4a" stroke-width="1.05"/><circle cx="118.33" cy="387.20" r="1.95" fill="none" stroke="#4a4a4a" stroke-width="1.05"/><circle cx="126.15" cy="410.10" r="1.95" fill="none" stroke="#4a4a4a" stroke-width="1.05"/><circle cx="133.98" cy="403.90" r="1.95" fill="none" stroke="#4a4a4a" stroke-width="1.05"/><circle cx="141.80" cy="404.30" r="1.95" fill="none" stroke="#4a4a4a" stroke-width="1.05"/><circle cx="149.63" cy="376.20" r="1.95" fill="none" stroke="#4a4a4a" stroke-width="1.05"/><circle cx="157.46" cy="378.30" r="1.95" fill="none" stroke="#4a4a4a" stroke-width="1.05"/><circle cx="165.28" cy="394.10" r="1.95" fill="none" stroke="#4a4a4a" stroke-width="1.05"/><circle cx="173.11" cy="393.40" r="1.95" fill="none" stroke="#4a4a4a" stroke-width="1.05"/><circle cx="180.94" cy="399.60" r="1.95" fill="none" stroke="#4a4a4a" stroke-width="1.05"/><circle cx="188.76" cy="396.60" r="1.95" fill="none" stroke="#4a4a4a" stroke-width="1.05"/><circle cx="196.59" cy="396.60" r="1.95" fill="none" stroke="#4a4a4a" stroke-width="1.05"/><circle cx="204.42" cy="391.10" r="1.95" fill="none" stroke="#4a4a4a" stroke-width="1.05"/><circle cx="212.24" cy="391.10" r="1.95" fill="none" stroke="#4a4a4a" stroke-width="1.05"/><circle cx="220.07" cy="401.50" r="1.95" fill="none" stroke="#4a4a4a" stroke-width="1.05"/><circle cx="227.90" cy="399.20" r="1.95" fill="none" stroke="#4a4a4a" stroke-width="1.05"/><circle cx="235.72" cy="389.50" r="1.95" fill="none" stroke="#4a4a4a" stroke-width="1.05"/><circle cx="243.55" cy="400.50" r="1.95" fill="none" stroke="#4a4a4a" stroke-width="1.05"/><circle cx="251.38" cy="395.00" r="1.95" fill="none" stroke="#4a4a4a" stroke-width="1.05"/><circle cx="259.20" cy="399.20" r="1.95" fill="none" stroke="#4a4a4a" stroke-width="1.05"/><circle cx="267.03" cy="396.40" r="1.95" fill="none" stroke="#4a4a4a" stroke-width="1.05"/><circle cx="274.86" cy="406.40" r="1.95" fill="none" stroke="#4a4a4a" stroke-width="1.05"/><circle cx="282.68" cy="405.70" r="1.95" fill="none" stroke="#4a4a4a" stroke-width="1.05"/><circle cx="290.51" cy="405.40" r="1.95" fill="none" stroke="#4a4a4a" stroke-width="1.05"/><circle cx="298.33" cy="398.90" r="1.95" fill="none" stroke="#4a4a4a" stroke-width="1.05"/><circle cx="306.16" cy="402.30" r="1.95" fill="none" stroke="#4a4a4a" stroke-width="1.05"/><circle cx="313.99" cy="396.10" r="1.95" fill="none" stroke="#4a4a4a" stroke-width="1.05"/><circle cx="321.81" cy="395.00" r="1.95" fill="none" stroke="#4a4a4a" stroke-width="1.05"/><circle cx="329.64" cy="400.50" r="1.95" fill="none" stroke="#4a4a4a" stroke-width="1.05"/><circle cx="337.47" cy="399.40" r="1.95" fill="none" stroke="#4a4a4a" stroke-width="1.05"/><circle cx="345.29" cy="400.40" r="1.95" fill="none" stroke="#4a4a4a" stroke-width="1.05"/><circle cx="353.12" cy="400.30" r="1.95" fill="none" stroke="#4a4a4a" stroke-width="1.05"/><circle cx="360.95" cy="396.80" r="1.95" fill="none" stroke="#4a4a4a" stroke-width="1.05"/></g>
<g clip-path="url(#cm)"><polyline points="55.71,258.09 63.54,259.94 71.37,259.62 79.19,258.09 87.02,257.21 94.85,258.09 102.67,258.69 110.50,258.69 118.33,257.79 126.15,255.80 133.98,252.45 141.80,256.08 149.63,257.50 157.46,258.09 165.28,248.60 173.11,241.72 180.94,242.90 188.76,239.67 196.59,238.18 204.42,234.79 212.24,231.20 220.07,231.09 227.90,225.65 235.72,223.87 243.55,218.44 251.38,214.82 259.20,209.72 267.03,206.62 274.86,201.62 282.68,196.42 290.51,190.49 298.33,184.57 306.16,179.36 313.99,172.90 321.81,165.44 329.64,159.01 337.47,150.48 345.29,141.74 353.12,130.52 360.95,116.33" fill="none" stroke="#b02a50" stroke-width="1"/><path d="M55.71,255.13V261.40M54.01,255.13H57.41M54.01,261.40H57.41M63.54,256.89V263.38M61.84,256.89H65.24M61.84,263.38H65.24M71.37,256.59V263.04M69.67,256.59H73.07M69.67,263.04H73.07M79.19,255.13V261.40M77.49,255.13H80.89M77.49,261.40H80.89M87.02,254.30V260.47M85.32,254.30H88.72M85.32,260.47H88.72M94.85,255.13V261.40M93.15,255.13H96.55M93.15,261.40H96.55M102.67,255.70V262.05M100.97,255.70H104.37M100.97,262.05H104.37M110.50,255.70V262.05M108.80,255.70H112.20M108.80,262.05H112.20M118.33,254.85V261.09M116.63,254.85H120.03M116.63,261.09H120.03M126.15,252.96V258.97M124.45,252.96H127.85M124.45,258.97H127.85M133.98,249.76V255.42M132.28,249.76H135.68M132.28,255.42H135.68M141.80,253.22V259.26M140.10,253.22H143.50M140.10,259.26H143.50M149.63,254.57V260.77M147.93,254.57H151.33M147.93,260.77H151.33M157.46,255.13V261.40M155.76,255.13H159.16M155.76,261.40H159.16M165.28,246.09V251.36M163.58,246.09H166.98M163.58,251.36H166.98M173.11,239.50V244.15M171.41,239.50H174.81M171.41,244.15H174.81M180.94,240.63V245.38M179.24,240.63H182.64M179.24,245.38H182.64M188.76,237.52V241.99M187.06,237.52H190.46M187.06,241.99H190.46M196.59,236.09V240.45M194.89,236.09H198.29M194.89,240.45H198.29M204.42,232.82V236.91M202.72,232.82H206.12M202.72,236.91H206.12M212.24,229.36V233.19M210.54,229.36H213.94M210.54,233.19H213.94M220.07,229.25V233.07M218.37,229.25H221.77M218.37,233.07H221.77M227.90,223.97V227.43M226.20,223.97H229.60M226.20,227.43H229.60M235.72,222.25V225.60M234.02,222.25H237.42M234.02,225.60H237.42M243.55,216.97V220.00M241.85,216.97H245.25M241.85,220.00H245.25M251.38,213.44V216.28M249.68,213.44H253.08M249.68,216.28H253.08M259.20,208.45V211.04M257.50,208.45H260.90M257.50,211.04H260.90M267.03,205.42V207.87M265.33,205.42H268.73M265.33,207.87H268.73M274.86,200.52V202.76M273.16,200.52H276.56M273.16,202.76H276.56M282.68,195.43V197.46M280.98,195.43H284.38M280.98,197.46H284.38M290.51,189.59V191.41M288.81,189.59H292.21M288.81,191.41H292.21M298.33,183.76V185.40M296.63,183.76H300.03M296.63,185.40H300.03M306.16,178.62V180.11M304.46,178.62H307.86M304.46,180.11H307.86M313.99,172.24V173.57M312.29,172.24H315.69M312.29,173.57H315.69M321.81,164.87V166.02M320.11,164.87H323.51M320.11,166.02H323.51M329.64,158.50V159.53M327.94,158.50H331.34M327.94,159.53H331.34M337.47,150.04V150.92M335.77,150.04H339.17M335.77,150.92H339.17M345.29,141.36V142.11M343.59,141.36H346.99M343.59,142.11H346.99M353.12,130.22V130.83M351.42,130.22H354.82M351.42,130.83H354.82M360.95,116.09V116.57M359.25,116.09H362.65M359.25,116.57H362.65" fill="none" stroke="#b02a50" stroke-width="0.9"/><path d="M55.71,254.69 L58.71,260.69 L52.71,260.69 Z" fill="none" stroke="#b02a50" stroke-width="1.1"/><path d="M63.54,256.54 L66.54,262.54 L60.54,262.54 Z" fill="none" stroke="#b02a50" stroke-width="1.1"/><path d="M71.37,256.22 L74.37,262.22 L68.37,262.22 Z" fill="none" stroke="#b02a50" stroke-width="1.1"/><path d="M79.19,254.69 L82.19,260.69 L76.19,260.69 Z" fill="none" stroke="#b02a50" stroke-width="1.1"/><path d="M87.02,253.81 L90.02,259.81 L84.02,259.81 Z" fill="none" stroke="#b02a50" stroke-width="1.1"/><path d="M94.85,254.69 L97.85,260.69 L91.85,260.69 Z" fill="none" stroke="#b02a50" stroke-width="1.1"/><path d="M102.67,255.29 L105.67,261.29 L99.67,261.29 Z" fill="none" stroke="#b02a50" stroke-width="1.1"/><path d="M110.50,255.29 L113.50,261.29 L107.50,261.29 Z" fill="none" stroke="#b02a50" stroke-width="1.1"/><path d="M118.33,254.39 L121.33,260.39 L115.33,260.39 Z" fill="none" stroke="#b02a50" stroke-width="1.1"/><path d="M126.15,252.40 L129.15,258.40 L123.15,258.40 Z" fill="none" stroke="#b02a50" stroke-width="1.1"/><path d="M133.98,249.05 L136.98,255.05 L130.98,255.05 Z" fill="none" stroke="#b02a50" stroke-width="1.1"/><path d="M141.80,252.68 L144.80,258.68 L138.80,258.68 Z" fill="none" stroke="#b02a50" stroke-width="1.1"/><path d="M149.63,254.10 L152.63,260.10 L146.63,260.10 Z" fill="none" stroke="#b02a50" stroke-width="1.1"/><path d="M157.46,254.69 L160.46,260.69 L154.46,260.69 Z" fill="none" stroke="#b02a50" stroke-width="1.1"/><path d="M165.28,245.20 L168.28,251.20 L162.28,251.20 Z" fill="none" stroke="#b02a50" stroke-width="1.1"/><path d="M173.11,238.32 L176.11,244.32 L170.11,244.32 Z" fill="none" stroke="#b02a50" stroke-width="1.1"/><path d="M180.94,239.50 L183.94,245.50 L177.94,245.50 Z" fill="none" stroke="#b02a50" stroke-width="1.1"/><path d="M188.76,236.27 L191.76,242.27 L185.76,242.27 Z" fill="none" stroke="#b02a50" stroke-width="1.1"/><path d="M196.59,234.78 L199.59,240.78 L193.59,240.78 Z" fill="none" stroke="#b02a50" stroke-width="1.1"/><path d="M204.42,231.39 L207.42,237.39 L201.42,237.39 Z" fill="none" stroke="#b02a50" stroke-width="1.1"/><path d="M212.24,227.80 L215.24,233.80 L209.24,233.80 Z" fill="none" stroke="#b02a50" stroke-width="1.1"/><path d="M220.07,227.69 L223.07,233.69 L217.07,233.69 Z" fill="none" stroke="#b02a50" stroke-width="1.1"/><path d="M227.90,222.25 L230.90,228.25 L224.90,228.25 Z" fill="none" stroke="#b02a50" stroke-width="1.1"/><path d="M235.72,220.47 L238.72,226.47 L232.72,226.47 Z" fill="none" stroke="#b02a50" stroke-width="1.1"/><path d="M243.55,215.04 L246.55,221.04 L240.55,221.04 Z" fill="none" stroke="#b02a50" stroke-width="1.1"/><path d="M251.38,211.42 L254.38,217.42 L248.38,217.42 Z" fill="none" stroke="#b02a50" stroke-width="1.1"/><path d="M259.20,206.32 L262.20,212.32 L256.20,212.32 Z" fill="none" stroke="#b02a50" stroke-width="1.1"/><path d="M267.03,203.22 L270.03,209.22 L264.03,209.22 Z" fill="none" stroke="#b02a50" stroke-width="1.1"/><path d="M274.86,198.22 L277.86,204.22 L271.86,204.22 Z" fill="none" stroke="#b02a50" stroke-width="1.1"/><path d="M282.68,193.02 L285.68,199.02 L279.68,199.02 Z" fill="none" stroke="#b02a50" stroke-width="1.1"/><path d="M290.51,187.09 L293.51,193.09 L287.51,193.09 Z" fill="none" stroke="#b02a50" stroke-width="1.1"/><path d="M298.33,181.17 L301.33,187.17 L295.33,187.17 Z" fill="none" stroke="#b02a50" stroke-width="1.1"/><path d="M306.16,175.96 L309.16,181.96 L303.16,181.96 Z" fill="none" stroke="#b02a50" stroke-width="1.1"/><path d="M313.99,169.50 L316.99,175.50 L310.99,175.50 Z" fill="none" stroke="#b02a50" stroke-width="1.1"/><path d="M321.81,162.04 L324.81,168.04 L318.81,168.04 Z" fill="none" stroke="#b02a50" stroke-width="1.1"/><path d="M329.64,155.61 L332.64,161.61 L326.64,161.61 Z" fill="none" stroke="#b02a50" stroke-width="1.1"/><path d="M337.47,147.08 L340.47,153.08 L334.47,153.08 Z" fill="none" stroke="#b02a50" stroke-width="1.1"/><path d="M345.29,138.34 L348.29,144.34 L342.29,144.34 Z" fill="none" stroke="#b02a50" stroke-width="1.1"/><path d="M353.12,127.12 L356.12,133.12 L350.12,133.12 Z" fill="none" stroke="#b02a50" stroke-width="1.1"/><path d="M360.95,112.93 L363.95,118.93 L357.95,118.93 Z" fill="none" stroke="#b02a50" stroke-width="1.1"/></g>
<g clip-path="url(#cm)"><polyline points="55.71,254.98 63.54,253.63 71.37,254.79 79.19,259.63 87.02,255.73 94.85,251.43 102.67,254.52 110.50,257.91 118.33,250.23 126.15,254.58 133.98,247.77 141.80,246.66 149.63,245.91 157.46,245.00 165.28,239.90 173.11,237.49 180.94,238.66 188.76,230.81 196.59,233.07 204.42,226.97 212.24,225.24 220.07,223.34 227.90,220.62 235.72,221.43 243.55,216.75 251.38,212.19 259.20,206.86 267.03,202.88 274.86,202.31 282.68,196.27 290.51,190.99 298.33,186.14 306.16,181.56 313.99,174.03 321.81,167.95 329.64,162.68 337.47,153.52 345.29,144.78 353.12,133.25 360.95,115.54" fill="none" stroke="#f5305f" stroke-width="1" stroke-dasharray="2.4 1.9"/><path d="M55.71,252.18V258.10M54.01,252.18H57.41M54.01,258.10H57.41M63.54,250.89V256.67M61.84,250.89H65.24M61.84,256.67H65.24M71.37,251.99V257.90M69.67,251.99H73.07M69.67,257.90H73.07M79.19,256.59V263.04M77.49,256.59H80.89M77.49,263.04H80.89M87.02,252.89V258.90M85.32,252.89H88.72M85.32,258.90H88.72M94.85,248.80V254.35M93.15,248.80H96.55M93.15,254.35H96.55M102.67,251.74V257.61M100.97,251.74H104.37M100.97,257.61H104.37M110.50,254.96V261.21M108.80,254.96H112.20M108.80,261.21H112.20M118.33,247.65V253.07M116.63,247.65H120.03M116.63,253.07H120.03M126.15,251.79V257.67M124.45,251.79H127.85M124.45,257.67H127.85M133.98,245.30V250.48M132.28,245.30H135.68M132.28,250.48H135.68M141.80,244.23V249.32M140.10,244.23H143.50M140.10,249.32H143.50M149.63,243.52V248.54M147.93,243.52H151.33M147.93,248.54H151.33M157.46,242.64V247.57M155.76,242.64H159.16M155.76,247.57H159.16M165.28,237.75V242.24M163.58,237.75H166.98M163.58,242.24H166.98M173.11,235.42V239.72M171.41,235.42H174.81M171.41,239.72H174.81M180.94,236.55V240.95M179.24,236.55H182.64M179.24,240.95H182.64M188.76,228.98V232.78M187.06,228.98H190.46M187.06,232.78H190.46M196.59,231.15V235.12M194.89,231.15H198.29M194.89,235.12H198.29M204.42,225.26V228.80M202.72,225.26H206.12M202.72,228.80H206.12M212.24,223.57V227.01M210.54,223.57H213.94M210.54,227.01H213.94M220.07,221.73V225.05M218.37,221.73H221.77M218.37,225.05H221.77M227.90,219.09V222.25M226.20,219.09H229.60M226.20,222.25H229.60M235.72,219.87V223.08M234.02,219.87H237.42M234.02,223.08H237.42M243.55,215.32V218.26M241.85,215.32H245.25M241.85,218.26H245.25M251.38,210.87V213.57M249.68,210.87H253.08M249.68,213.57H253.08M259.20,205.66V208.12M257.50,205.66H260.90M257.50,208.12H260.90M267.03,201.77V204.05M265.33,201.77H268.73M265.33,204.05H268.73M274.86,201.20V203.46M273.16,201.20H276.56M273.16,203.46H276.56M282.68,195.27V197.30M280.98,195.27H284.38M280.98,197.30H284.38M290.51,190.09V191.93M288.81,190.09H292.21M288.81,191.93H292.21M298.33,185.31V186.99M296.63,185.31H300.03M296.63,186.99H300.03M306.16,180.79V182.34M304.46,180.79H307.86M304.46,182.34H307.86M313.99,173.36V174.71M312.29,173.36H315.69M312.29,174.71H315.69M321.81,167.35V168.56M320.11,167.35H323.51M320.11,168.56H323.51M329.64,162.14V163.24M327.94,162.14H331.34M327.94,163.24H331.34M337.47,153.06V153.99M335.77,153.06H339.17M335.77,153.99H339.17M345.29,144.39V145.18M343.59,144.39H346.99M343.59,145.18H346.99M353.12,132.93V133.58M351.42,132.93H354.82M351.42,133.58H354.82M360.95,115.31V115.78M359.25,115.31H362.65M359.25,115.78H362.65" fill="none" stroke="#f5305f" stroke-width="0.9" stroke-dasharray="2.4 1.9"/><circle cx="55.71" cy="254.98" r="1.95" fill="none" stroke="#f5305f" stroke-width="1.05"/><circle cx="63.54" cy="253.63" r="1.95" fill="none" stroke="#f5305f" stroke-width="1.05"/><circle cx="71.37" cy="254.79" r="1.95" fill="none" stroke="#f5305f" stroke-width="1.05"/><circle cx="79.19" cy="259.63" r="1.95" fill="none" stroke="#f5305f" stroke-width="1.05"/><circle cx="87.02" cy="255.73" r="1.95" fill="none" stroke="#f5305f" stroke-width="1.05"/><circle cx="94.85" cy="251.43" r="1.95" fill="none" stroke="#f5305f" stroke-width="1.05"/><circle cx="102.67" cy="254.52" r="1.95" fill="none" stroke="#f5305f" stroke-width="1.05"/><circle cx="110.50" cy="257.91" r="1.95" fill="none" stroke="#f5305f" stroke-width="1.05"/><circle cx="118.33" cy="250.23" r="1.95" fill="none" stroke="#f5305f" stroke-width="1.05"/><circle cx="126.15" cy="254.58" r="1.95" fill="none" stroke="#f5305f" stroke-width="1.05"/><circle cx="133.98" cy="247.77" r="1.95" fill="none" stroke="#f5305f" stroke-width="1.05"/><circle cx="141.80" cy="246.66" r="1.95" fill="none" stroke="#f5305f" stroke-width="1.05"/><circle cx="149.63" cy="245.91" r="1.95" fill="none" stroke="#f5305f" stroke-width="1.05"/><circle cx="157.46" cy="245.00" r="1.95" fill="none" stroke="#f5305f" stroke-width="1.05"/><circle cx="165.28" cy="239.90" r="1.95" fill="none" stroke="#f5305f" stroke-width="1.05"/><circle cx="173.11" cy="237.49" r="1.95" fill="none" stroke="#f5305f" stroke-width="1.05"/><circle cx="180.94" cy="238.66" r="1.95" fill="none" stroke="#f5305f" stroke-width="1.05"/><circle cx="188.76" cy="230.81" r="1.95" fill="none" stroke="#f5305f" stroke-width="1.05"/><circle cx="196.59" cy="233.07" r="1.95" fill="none" stroke="#f5305f" stroke-width="1.05"/><circle cx="204.42" cy="226.97" r="1.95" fill="none" stroke="#f5305f" stroke-width="1.05"/><circle cx="212.24" cy="225.24" r="1.95" fill="none" stroke="#f5305f" stroke-width="1.05"/><circle cx="220.07" cy="223.34" r="1.95" fill="none" stroke="#f5305f" stroke-width="1.05"/><circle cx="227.90" cy="220.62" r="1.95" fill="none" stroke="#f5305f" stroke-width="1.05"/><circle cx="235.72" cy="221.43" r="1.95" fill="none" stroke="#f5305f" stroke-width="1.05"/><circle cx="243.55" cy="216.75" r="1.95" fill="none" stroke="#f5305f" stroke-width="1.05"/><circle cx="251.38" cy="212.19" r="1.95" fill="none" stroke="#f5305f" stroke-width="1.05"/><circle cx="259.20" cy="206.86" r="1.95" fill="none" stroke="#f5305f" stroke-width="1.05"/><circle cx="267.03" cy="202.88" r="1.95" fill="none" stroke="#f5305f" stroke-width="1.05"/><circle cx="274.86" cy="202.31" r="1.95" fill="none" stroke="#f5305f" stroke-width="1.05"/><circle cx="282.68" cy="196.27" r="1.95" fill="none" stroke="#f5305f" stroke-width="1.05"/><circle cx="290.51" cy="190.99" r="1.95" fill="none" stroke="#f5305f" stroke-width="1.05"/><circle cx="298.33" cy="186.14" r="1.95" fill="none" stroke="#f5305f" stroke-width="1.05"/><circle cx="306.16" cy="181.56" r="1.95" fill="none" stroke="#f5305f" stroke-width="1.05"/><circle cx="313.99" cy="174.03" r="1.95" fill="none" stroke="#f5305f" stroke-width="1.05"/><circle cx="321.81" cy="167.95" r="1.95" fill="none" stroke="#f5305f" stroke-width="1.05"/><circle cx="329.64" cy="162.68" r="1.95" fill="none" stroke="#f5305f" stroke-width="1.05"/><circle cx="337.47" cy="153.52" r="1.95" fill="none" stroke="#f5305f" stroke-width="1.05"/><circle cx="345.29" cy="144.78" r="1.95" fill="none" stroke="#f5305f" stroke-width="1.05"/><circle cx="353.12" cy="133.25" r="1.95" fill="none" stroke="#f5305f" stroke-width="1.05"/><circle cx="360.95" cy="115.54" r="1.95" fill="none" stroke="#f5305f" stroke-width="1.05"/></g>
<g clip-path="url(#cm)"><polyline points="55.71,267.88 63.54,258.28 71.37,258.90 79.19,266.79 87.02,263.71 94.85,265.22 102.67,252.70 110.50,269.27 118.33,258.01 126.15,257.28 133.98,254.86 141.80,255.35 149.63,254.58 157.46,254.23 165.28,253.06 173.11,246.65 180.94,248.46 188.76,249.09 196.59,242.80 204.42,238.78 212.24,239.12 220.07,236.02 227.90,232.96 235.72,233.58 243.55,230.06 251.38,223.02 259.20,223.12 267.03,220.97 274.86,214.08 282.68,209.20 290.51,204.21 298.33,194.36 306.16,191.98 313.99,183.79 321.81,175.08 329.64,169.28 337.47,157.73 345.29,146.66 353.12,130.43 360.95,108.07" fill="none" stroke="#2ecb85" stroke-width="1" stroke-dasharray="2.4 1.9"/><path d="M55.71,264.39V271.90M54.01,264.39H57.41M54.01,271.90H57.41M63.54,255.31V261.60M61.84,255.31H65.24M61.84,261.60H65.24M71.37,255.90V262.27M69.67,255.90H73.07M69.67,262.27H73.07M79.19,263.35V270.71M77.49,263.35H80.89M77.49,270.71H80.89M87.02,260.45V267.40M85.32,260.45H88.72M85.32,267.40H88.72M94.85,261.87V269.02M93.15,261.87H96.55M93.15,269.02H96.55M102.67,250.00V255.68M100.97,250.00H104.37M100.97,255.68H104.37M110.50,265.69V273.39M108.80,265.69H112.20M108.80,273.39H112.20M118.33,255.06V261.32M116.63,255.06H120.03M116.63,261.32H120.03M126.15,254.36V260.54M124.45,254.36H127.85M124.45,260.54H127.85M133.98,252.07V257.98M132.28,252.07H135.68M132.28,257.98H135.68M141.80,252.53V258.50M140.10,252.53H143.50M140.10,258.50H143.50M149.63,251.80V257.68M147.93,251.80H151.33M147.93,257.68H151.33M157.46,251.46V257.30M155.76,251.46H159.16M155.76,257.30H159.16M165.28,250.35V256.06M163.58,250.35H166.98M163.58,256.06H166.98M173.11,244.23V249.31M171.41,244.23H174.81M171.41,249.31H174.81M180.94,245.95V251.21M179.24,245.95H182.64M179.24,251.21H182.64M188.76,246.56V251.87M187.06,246.56H190.46M187.06,251.87H190.46M196.59,240.53V245.27M194.89,240.53H198.29M194.89,245.27H198.29M204.42,236.66V241.07M202.72,236.66H206.12M202.72,241.07H206.12M212.24,236.99V241.42M210.54,236.99H213.94M210.54,241.42H213.94M220.07,234.01V238.19M218.37,234.01H221.77M218.37,238.19H221.77M227.90,231.05V235.01M226.20,231.05H229.60M226.20,235.01H229.60M235.72,231.65V235.65M234.02,231.65H237.42M234.02,235.65H237.42M243.55,228.25V232.00M241.85,228.25H245.25M241.85,232.00H245.25M251.38,221.42V224.72M249.68,221.42H253.08M249.68,224.72H253.08M259.20,221.52V224.83M257.50,221.52H260.90M257.50,224.83H260.90M267.03,219.43V222.60M265.33,219.43H268.73M265.33,222.60H268.73M274.86,212.71V215.52M273.16,212.71H276.56M273.16,215.52H276.56M282.68,207.95V210.51M280.98,207.95H284.38M280.98,210.51H284.38M290.51,203.06V205.40M288.81,203.06H292.21M288.81,205.40H292.21M298.33,193.40V195.36M296.63,193.40H300.03M296.63,195.36H300.03M306.16,191.06V192.93M304.46,191.06H307.86M304.46,192.93H307.86M313.99,183.00V184.61M312.29,183.00H315.69M312.29,184.61H315.69M321.81,174.40V175.78M320.11,174.40H323.51M320.11,175.78H323.51M329.64,168.66V169.90M327.94,168.66H331.34M327.94,169.90H331.34M337.47,157.23V158.23M335.77,157.23H339.17M335.77,158.23H339.17M345.29,146.26V147.08M343.59,146.26H346.99M343.59,147.08H346.99M353.12,130.12V130.73M351.42,130.12H354.82M351.42,130.73H354.82M360.95,107.87V108.28M359.25,107.87H362.65M359.25,108.28H362.65" fill="none" stroke="#2ecb85" stroke-width="0.9" stroke-dasharray="2.4 1.9"/><path d="M55.71,265.53 L58.06,267.88 L55.71,270.23 L53.36,267.88 Z" fill="#2ecb85"/><path d="M63.54,255.93 L65.89,258.28 L63.54,260.63 L61.19,258.28 Z" fill="#2ecb85"/><path d="M71.37,256.55 L73.72,258.90 L71.37,261.25 L69.02,258.90 Z" fill="#2ecb85"/><path d="M79.19,264.44 L81.54,266.79 L79.19,269.14 L76.84,266.79 Z" fill="#2ecb85"/><path d="M87.02,261.36 L89.37,263.71 L87.02,266.06 L84.67,263.71 Z" fill="#2ecb85"/><path d="M94.85,262.87 L97.20,265.22 L94.85,267.57 L92.50,265.22 Z" fill="#2ecb85"/><path d="M102.67,250.35 L105.02,252.70 L102.67,255.05 L100.32,252.70 Z" fill="#2ecb85"/><path d="M110.50,266.92 L112.85,269.27 L110.50,271.62 L108.15,269.27 Z" fill="#2ecb85"/><path d="M118.33,255.66 L120.68,258.01 L118.33,260.36 L115.98,258.01 Z" fill="#2ecb85"/><path d="M126.15,254.93 L128.50,257.28 L126.15,259.63 L123.80,257.28 Z" fill="#2ecb85"/><path d="M133.98,252.51 L136.33,254.86 L133.98,257.21 L131.63,254.86 Z" fill="#2ecb85"/><path d="M141.80,253.00 L144.15,255.35 L141.80,257.70 L139.45,255.35 Z" fill="#2ecb85"/><path d="M149.63,252.23 L151.98,254.58 L149.63,256.93 L147.28,254.58 Z" fill="#2ecb85"/><path d="M157.46,251.88 L159.81,254.23 L157.46,256.58 L155.11,254.23 Z" fill="#2ecb85"/><path d="M165.28,250.71 L167.63,253.06 L165.28,255.41 L162.93,253.06 Z" fill="#2ecb85"/><path d="M173.11,244.30 L175.46,246.65 L173.11,249.00 L170.76,246.65 Z" fill="#2ecb85"/><path d="M180.94,246.11 L183.29,248.46 L180.94,250.81 L178.59,248.46 Z" fill="#2ecb85"/><path d="M188.76,246.74 L191.11,249.09 L188.76,251.44 L186.41,249.09 Z" fill="#2ecb85"/><path d="M196.59,240.45 L198.94,242.80 L196.59,245.15 L194.24,242.80 Z" fill="#2ecb85"/><path d="M204.42,236.43 L206.77,238.78 L204.42,241.13 L202.07,238.78 Z" fill="#2ecb85"/><path d="M212.24,236.77 L214.59,239.12 L212.24,241.47 L209.89,239.12 Z" fill="#2ecb85"/><path d="M220.07,233.67 L222.42,236.02 L220.07,238.37 L217.72,236.02 Z" fill="#2ecb85"/><path d="M227.90,230.61 L230.25,232.96 L227.90,235.31 L225.55,232.96 Z" fill="#2ecb85"/><path d="M235.72,231.23 L238.07,233.58 L235.72,235.93 L233.37,233.58 Z" fill="#2ecb85"/><path d="M243.55,227.71 L245.90,230.06 L243.55,232.41 L241.20,230.06 Z" fill="#2ecb85"/><path d="M251.38,220.67 L253.73,223.02 L251.38,225.37 L249.03,223.02 Z" fill="#2ecb85"/><path d="M259.20,220.77 L261.55,223.12 L259.20,225.47 L256.85,223.12 Z" fill="#2ecb85"/><path d="M267.03,218.62 L269.38,220.97 L267.03,223.32 L264.68,220.97 Z" fill="#2ecb85"/><path d="M274.86,211.73 L277.21,214.08 L274.86,216.43 L272.51,214.08 Z" fill="#2ecb85"/><path d="M282.68,206.85 L285.03,209.20 L282.68,211.55 L280.33,209.20 Z" fill="#2ecb85"/><path d="M290.51,201.86 L292.86,204.21 L290.51,206.56 L288.16,204.21 Z" fill="#2ecb85"/><path d="M298.33,192.01 L300.68,194.36 L298.33,196.71 L295.98,194.36 Z" fill="#2ecb85"/><path d="M306.16,189.63 L308.51,191.98 L306.16,194.33 L303.81,191.98 Z" fill="#2ecb85"/><path d="M313.99,181.44 L316.34,183.79 L313.99,186.14 L311.64,183.79 Z" fill="#2ecb85"/><path d="M321.81,172.73 L324.16,175.08 L321.81,177.43 L319.46,175.08 Z" fill="#2ecb85"/><path d="M329.64,166.93 L331.99,169.28 L329.64,171.63 L327.29,169.28 Z" fill="#2ecb85"/><path d="M337.47,155.38 L339.82,157.73 L337.47,160.08 L335.12,157.73 Z" fill="#2ecb85"/><path d="M345.29,144.31 L347.64,146.66 L345.29,149.01 L342.94,146.66 Z" fill="#2ecb85"/><path d="M353.12,128.08 L355.47,130.43 L353.12,132.78 L350.77,130.43 Z" fill="#2ecb85"/><path d="M360.95,105.72 L363.30,108.07 L360.95,110.42 L358.60,108.07 Z" fill="#2ecb85"/></g>
<g clip-path="url(#cm)"><polyline points="55.71,270.08 63.54,263.61 71.37,264.24 79.19,269.77 87.02,263.08 94.85,273.50 102.67,266.45 110.50,270.28 118.33,260.74 126.15,262.61 133.98,262.49 141.80,255.67 149.63,255.39 157.46,256.27 165.28,250.80 173.11,250.48 180.94,247.58 188.76,245.85 196.59,249.08 204.42,243.33 212.24,237.17 220.07,238.19 227.90,239.65 235.72,234.64 243.55,231.38 251.38,226.44 259.20,223.72 267.03,219.02 274.86,215.96 282.68,212.06 290.51,205.68 298.33,198.70 306.16,193.93 313.99,184.64 321.81,177.43 329.64,170.78 337.47,159.68 345.29,147.48 353.12,131.53 360.95,105.03" fill="none" stroke="#ff7a33" stroke-width="1" stroke-dasharray="4 1.8 1 1.8"/><path d="M55.71,266.45V274.27M54.01,266.45H57.41M54.01,274.27H57.41M63.54,260.36V267.30M61.84,260.36H65.24M61.84,267.30H65.24M71.37,260.95V267.97M69.67,260.95H73.07M69.67,267.97H73.07M79.19,266.15V273.93M77.49,266.15H80.89M77.49,273.93H80.89M87.02,259.86V266.73M85.32,259.86H88.72M85.32,266.73H88.72M94.85,269.65V277.98M93.15,269.65H96.55M93.15,277.98H96.55M102.67,263.03V270.35M100.97,263.03H104.37M100.97,270.35H104.37M110.50,266.63V274.48M108.80,266.63H112.20M108.80,274.48H112.20M118.33,257.65V264.23M116.63,257.65H120.03M116.63,264.23H120.03M126.15,259.42V266.23M124.45,259.42H127.85M124.45,266.23H127.85M133.98,259.30V266.10M132.28,259.30H135.68M132.28,266.10H135.68M141.80,252.83V258.83M140.10,252.83H143.50M140.10,258.83H143.50M149.63,252.57V258.54M147.93,252.57H151.33M147.93,258.54H151.33M157.46,253.40V259.47M155.76,253.40H159.16M155.76,259.47H159.16M165.28,248.19V253.68M163.58,248.19H166.98M163.58,253.68H166.98M173.11,247.89V253.35M171.41,247.89H174.81M171.41,253.35H174.81M180.94,245.11V250.28M179.24,245.11H182.64M179.24,250.28H182.64M188.76,243.46V248.47M187.06,243.46H190.46M187.06,248.47H190.46M196.59,246.55V251.86M194.89,246.55H198.29M194.89,251.86H198.29M204.42,241.04V245.83M202.72,241.04H206.12M202.72,245.83H206.12M212.24,235.12V239.39M210.54,235.12H213.94M210.54,239.39H213.94M220.07,236.10V240.45M218.37,236.10H221.77M218.37,240.45H221.77M227.90,237.50V241.98M226.20,237.50H229.60M226.20,241.98H229.60M235.72,232.68V236.76M234.02,232.68H237.42M234.02,236.76H237.42M243.55,229.52V233.37M241.85,229.52H245.25M241.85,233.37H245.25M251.38,224.74V228.25M249.68,224.74H253.08M249.68,228.25H253.08M259.20,222.10V225.44M257.50,222.10H260.90M257.50,225.44H260.90M267.03,217.53V220.60M265.33,217.53H268.73M265.33,220.60H268.73M274.86,214.55V217.45M273.16,214.55H276.56M273.16,217.45H276.56M282.68,210.74V213.44M280.98,210.74H284.38M280.98,213.44H284.38M290.51,204.51V206.91M288.81,204.51H292.21M288.81,206.91H292.21M298.33,197.66V199.77M296.63,197.66H300.03M296.63,199.77H300.03M306.16,192.97V194.91M304.46,192.97H307.86M304.46,194.91H307.86M313.99,183.83V185.47M312.29,183.83H315.69M312.29,185.47H315.69M321.81,176.72V178.16M320.11,176.72H323.51M320.11,178.16H323.51M329.64,170.15V171.43M327.94,170.15H331.34M327.94,171.43H331.34M337.47,159.16V160.20M335.77,159.16H339.17M335.77,160.20H339.17M345.29,147.07V147.90M343.59,147.07H346.99M343.59,147.90H346.99M353.12,131.22V131.84M351.42,131.22H354.82M351.42,131.84H354.82M360.95,104.83V105.22M359.25,104.83H362.65M359.25,105.22H362.65" fill="none" stroke="#ff7a33" stroke-width="0.9" stroke-dasharray="4 1.8 1 1.8"/><rect x="53.56" y="267.93" width="4.30" height="4.30" fill="#ff7a33"/><rect x="61.39" y="261.46" width="4.30" height="4.30" fill="#ff7a33"/><rect x="69.22" y="262.09" width="4.30" height="4.30" fill="#ff7a33"/><rect x="77.04" y="267.62" width="4.30" height="4.30" fill="#ff7a33"/><rect x="84.87" y="260.93" width="4.30" height="4.30" fill="#ff7a33"/><rect x="92.70" y="271.35" width="4.30" height="4.30" fill="#ff7a33"/><rect x="100.52" y="264.30" width="4.30" height="4.30" fill="#ff7a33"/><rect x="108.35" y="268.13" width="4.30" height="4.30" fill="#ff7a33"/><rect x="116.18" y="258.59" width="4.30" height="4.30" fill="#ff7a33"/><rect x="124.00" y="260.46" width="4.30" height="4.30" fill="#ff7a33"/><rect x="131.83" y="260.34" width="4.30" height="4.30" fill="#ff7a33"/><rect x="139.65" y="253.52" width="4.30" height="4.30" fill="#ff7a33"/><rect x="147.48" y="253.24" width="4.30" height="4.30" fill="#ff7a33"/><rect x="155.31" y="254.12" width="4.30" height="4.30" fill="#ff7a33"/><rect x="163.13" y="248.65" width="4.30" height="4.30" fill="#ff7a33"/><rect x="170.96" y="248.33" width="4.30" height="4.30" fill="#ff7a33"/><rect x="178.79" y="245.43" width="4.30" height="4.30" fill="#ff7a33"/><rect x="186.61" y="243.70" width="4.30" height="4.30" fill="#ff7a33"/><rect x="194.44" y="246.93" width="4.30" height="4.30" fill="#ff7a33"/><rect x="202.27" y="241.18" width="4.30" height="4.30" fill="#ff7a33"/><rect x="210.09" y="235.02" width="4.30" height="4.30" fill="#ff7a33"/><rect x="217.92" y="236.04" width="4.30" height="4.30" fill="#ff7a33"/><rect x="225.75" y="237.50" width="4.30" height="4.30" fill="#ff7a33"/><rect x="233.57" y="232.49" width="4.30" height="4.30" fill="#ff7a33"/><rect x="241.40" y="229.23" width="4.30" height="4.30" fill="#ff7a33"/><rect x="249.23" y="224.29" width="4.30" height="4.30" fill="#ff7a33"/><rect x="257.05" y="221.57" width="4.30" height="4.30" fill="#ff7a33"/><rect x="264.88" y="216.87" width="4.30" height="4.30" fill="#ff7a33"/><rect x="272.71" y="213.81" width="4.30" height="4.30" fill="#ff7a33"/><rect x="280.53" y="209.91" width="4.30" height="4.30" fill="#ff7a33"/><rect x="288.36" y="203.53" width="4.30" height="4.30" fill="#ff7a33"/><rect x="296.18" y="196.55" width="4.30" height="4.30" fill="#ff7a33"/><rect x="304.01" y="191.78" width="4.30" height="4.30" fill="#ff7a33"/><rect x="311.84" y="182.49" width="4.30" height="4.30" fill="#ff7a33"/><rect x="319.66" y="175.28" width="4.30" height="4.30" fill="#ff7a33"/><rect x="327.49" y="168.63" width="4.30" height="4.30" fill="#ff7a33"/><rect x="335.32" y="157.53" width="4.30" height="4.30" fill="#ff7a33"/><rect x="343.14" y="145.33" width="4.30" height="4.30" fill="#ff7a33"/><rect x="350.97" y="129.38" width="4.30" height="4.30" fill="#ff7a33"/><rect x="358.80" y="102.88" width="4.30" height="4.30" fill="#ff7a33"/></g>
<g clip-path="url(#cm)"><polyline points="55.71,263.65 63.54,256.02 71.37,257.02 79.19,261.45 87.02,261.82 94.85,262.86 102.67,260.32 110.50,265.19 118.33,257.26 126.15,253.51 133.98,251.79 141.80,254.25 149.63,252.51 157.46,255.33 165.28,250.29 173.11,248.22 180.94,249.71 188.76,244.91 196.59,241.79 204.42,238.15 212.24,238.33 220.07,237.12 227.90,234.69 235.72,231.19 243.55,228.55 251.38,223.65 259.20,220.05 267.03,216.89 274.86,212.51 282.68,206.03 290.51,202.45 298.33,196.31 306.16,188.97 313.99,182.50 321.81,173.98 329.64,168.43 337.47,156.66 345.29,145.97 353.12,130.11 360.95,107.60" fill="none" stroke="#14a814" stroke-width="1" stroke-dasharray="3 1.8"/><path d="M55.71,260.39V267.34M54.01,260.39H57.41M54.01,267.34H57.41M63.54,253.16V259.20M61.84,253.16H65.24M61.84,259.20H65.24M71.37,254.11V260.26M69.67,254.11H73.07M69.67,260.26H73.07M79.19,258.31V264.99M77.49,258.31H80.89M77.49,264.99H80.89M87.02,258.67V265.39M85.32,258.67H88.72M85.32,265.39H88.72M94.85,259.65V266.50M93.15,259.65H96.55M93.15,266.50H96.55M102.67,257.25V263.79M100.97,257.25H104.37M100.97,263.79H104.37M110.50,261.85V269.00M108.80,261.85H112.20M108.80,269.00H112.20M118.33,254.34V260.52M116.63,254.34H120.03M116.63,260.52H120.03M126.15,250.78V256.54M124.45,250.78H127.85M124.45,256.54H127.85M133.98,249.14V254.72M132.28,249.14H135.68M132.28,254.72H135.68M141.80,251.49V257.33M140.10,251.49H143.50M140.10,257.33H143.50M149.63,249.82V255.48M147.93,249.82H151.33M147.93,255.48H151.33M157.46,252.51V258.47M155.76,252.51H159.16M155.76,258.47H159.16M165.28,247.71V253.15M163.58,247.71H166.98M163.58,253.15H166.98M173.11,245.73V250.96M171.41,245.73H174.81M171.41,250.96H174.81M180.94,247.16V252.53M179.24,247.16H182.64M179.24,252.53H182.64M188.76,242.56V247.48M187.06,242.56H190.46M187.06,247.48H190.46M196.59,239.57V244.22M194.89,239.57H198.29M194.89,244.22H198.29M204.42,236.06V240.41M202.72,236.06H206.12M202.72,240.41H206.12M212.24,236.24V240.60M210.54,236.24H213.94M210.54,240.60H213.94M220.07,235.07V239.34M218.37,235.07H221.77M218.37,239.34H221.77M227.90,232.72V236.81M226.20,232.72H229.60M226.20,236.81H229.60M235.72,229.34V233.17M234.02,229.34H237.42M234.02,233.17H237.42M243.55,226.79V230.44M241.85,226.79H245.25M241.85,230.44H245.25M251.38,222.03V225.37M249.68,222.03H253.08M249.68,225.37H253.08M259.20,218.53V221.65M257.50,218.53H260.90M257.50,221.65H260.90M267.03,215.45V218.40M265.33,215.45H268.73M265.33,218.40H268.73M274.86,211.18V213.91M273.16,211.18H276.56M273.16,213.91H276.56M282.68,204.85V207.27M280.98,204.85H284.38M280.98,207.27H284.38M290.51,201.34V203.61M288.81,201.34H292.21M288.81,203.61H292.21M298.33,195.31V197.34M296.63,195.31H300.03M296.63,197.34H300.03M306.16,188.09V189.87M304.46,188.09H307.86M304.46,189.87H307.86M313.99,181.73V183.30M312.29,181.73H315.69M312.29,183.30H315.69M321.81,173.31V174.66M320.11,173.31H323.51M320.11,174.66H323.51M329.64,167.83V169.05M327.94,167.83H331.34M327.94,169.05H331.34M337.47,156.17V157.16M335.77,156.17H339.17M335.77,157.16H339.17M345.29,145.57V146.38M343.59,145.57H346.99M343.59,146.38H346.99M353.12,129.81V130.42M351.42,129.81H354.82M351.42,130.42H354.82M360.95,107.40V107.80M359.25,107.40H362.65M359.25,107.80H362.65" fill="none" stroke="#14a814" stroke-width="0.9" stroke-dasharray="3 1.8"/><path d="M53.21,261.85 L58.21,261.85 L55.71,266.15 Z" fill="#14a814"/><path d="M61.04,254.22 L66.04,254.22 L63.54,258.52 Z" fill="#14a814"/><path d="M68.87,255.22 L73.87,255.22 L71.37,259.52 Z" fill="#14a814"/><path d="M76.69,259.65 L81.69,259.65 L79.19,263.95 Z" fill="#14a814"/><path d="M84.52,260.02 L89.52,260.02 L87.02,264.32 Z" fill="#14a814"/><path d="M92.35,261.06 L97.35,261.06 L94.85,265.36 Z" fill="#14a814"/><path d="M100.17,258.52 L105.17,258.52 L102.67,262.82 Z" fill="#14a814"/><path d="M108.00,263.39 L113.00,263.39 L110.50,267.69 Z" fill="#14a814"/><path d="M115.83,255.46 L120.83,255.46 L118.33,259.76 Z" fill="#14a814"/><path d="M123.65,251.71 L128.65,251.71 L126.15,256.01 Z" fill="#14a814"/><path d="M131.48,249.99 L136.48,249.99 L133.98,254.29 Z" fill="#14a814"/><path d="M139.30,252.45 L144.30,252.45 L141.80,256.75 Z" fill="#14a814"/><path d="M147.13,250.71 L152.13,250.71 L149.63,255.01 Z" fill="#14a814"/><path d="M154.96,253.53 L159.96,253.53 L157.46,257.83 Z" fill="#14a814"/><path d="M162.78,248.49 L167.78,248.49 L165.28,252.79 Z" fill="#14a814"/><path d="M170.61,246.42 L175.61,246.42 L173.11,250.72 Z" fill="#14a814"/><path d="M178.44,247.91 L183.44,247.91 L180.94,252.21 Z" fill="#14a814"/><path d="M186.26,243.11 L191.26,243.11 L188.76,247.41 Z" fill="#14a814"/><path d="M194.09,239.99 L199.09,239.99 L196.59,244.29 Z" fill="#14a814"/><path d="M201.92,236.35 L206.92,236.35 L204.42,240.65 Z" fill="#14a814"/><path d="M209.74,236.53 L214.74,236.53 L212.24,240.83 Z" fill="#14a814"/><path d="M217.57,235.32 L222.57,235.32 L220.07,239.62 Z" fill="#14a814"/><path d="M225.40,232.89 L230.40,232.89 L227.90,237.19 Z" fill="#14a814"/><path d="M233.22,229.39 L238.22,229.39 L235.72,233.69 Z" fill="#14a814"/><path d="M241.05,226.75 L246.05,226.75 L243.55,231.05 Z" fill="#14a814"/><path d="M248.88,221.85 L253.88,221.85 L251.38,226.15 Z" fill="#14a814"/><path d="M256.70,218.25 L261.70,218.25 L259.20,222.55 Z" fill="#14a814"/><path d="M264.53,215.09 L269.53,215.09 L267.03,219.39 Z" fill="#14a814"/><path d="M272.36,210.71 L277.36,210.71 L274.86,215.01 Z" fill="#14a814"/><path d="M280.18,204.23 L285.18,204.23 L282.68,208.53 Z" fill="#14a814"/><path d="M288.01,200.65 L293.01,200.65 L290.51,204.95 Z" fill="#14a814"/><path d="M295.83,194.51 L300.83,194.51 L298.33,198.81 Z" fill="#14a814"/><path d="M303.66,187.17 L308.66,187.17 L306.16,191.47 Z" fill="#14a814"/><path d="M311.49,180.70 L316.49,180.70 L313.99,185.00 Z" fill="#14a814"/><path d="M319.31,172.18 L324.31,172.18 L321.81,176.48 Z" fill="#14a814"/><path d="M327.14,166.63 L332.14,166.63 L329.64,170.93 Z" fill="#14a814"/><path d="M334.97,154.86 L339.97,154.86 L337.47,159.16 Z" fill="#14a814"/><path d="M342.79,144.17 L347.79,144.17 L345.29,148.47 Z" fill="#14a814"/><path d="M350.62,128.31 L355.62,128.31 L353.12,132.61 Z" fill="#14a814"/><path d="M358.45,105.80 L363.45,105.80 L360.95,110.10 Z" fill="#14a814"/></g>
<g clip-path="url(#cm)"><polyline points="55.71,265.84 63.54,256.39 71.37,261.54 79.19,261.73 87.02,265.18 94.85,258.56 102.67,256.56 110.50,259.92 118.33,254.62 126.15,259.82 133.98,254.52 141.80,258.27 149.63,250.87 157.46,252.12 165.28,247.59 173.11,240.50 180.94,243.62 188.76,239.45 196.59,237.96 204.42,232.84 212.24,229.26 220.07,232.41 227.90,226.24 235.72,221.43 243.55,219.45 251.38,214.10 259.20,210.31 267.03,206.34 274.86,204.47 282.68,199.06 290.51,193.03 298.33,185.07 306.16,180.93 313.99,172.52 321.81,164.72 329.64,160.02 337.47,151.14 345.29,142.71 353.12,131.46 360.95,116.17" fill="none" stroke="#4a4a4a" stroke-width="1"/><path d="M55.71,262.46V269.70M54.01,262.46H57.41M54.01,269.70H57.41M63.54,253.52V259.60M61.84,253.52H65.24M61.84,259.60H65.24M71.37,258.40V265.08M69.67,258.40H73.07M69.67,265.08H73.07M79.19,258.58V265.29M77.49,258.58H80.89M77.49,265.29H80.89M87.02,261.84V268.99M85.32,261.84H88.72M85.32,268.99H88.72M94.85,255.58V261.90M93.15,255.58H96.55M93.15,261.90H96.55M102.67,253.68V259.77M100.97,253.68H104.37M100.97,259.77H104.37M110.50,256.86V263.35M108.80,256.86H112.20M108.80,263.35H112.20M118.33,251.84V257.72M116.63,251.84H120.03M116.63,257.72H120.03M126.15,256.77V263.25M124.45,256.77H127.85M124.45,263.25H127.85M133.98,251.74V257.61M132.28,251.74H135.68M132.28,257.61H135.68M141.80,255.31V261.60M140.10,255.31H143.50M140.10,261.60H143.50M149.63,248.26V253.76M147.93,248.26H151.33M147.93,253.76H151.33M157.46,249.46V255.08M155.76,249.46H159.16M155.76,255.08H159.16M165.28,245.13V250.30M163.58,245.13H166.98M163.58,250.30H166.98M173.11,238.32V242.86M171.41,238.32H174.81M171.41,242.86H174.81M180.94,241.32V246.13M179.24,241.32H182.64M179.24,246.13H182.64M188.76,237.31V241.77M187.06,237.31H190.46M187.06,241.77H190.46M196.59,235.88V240.22M194.89,235.88H198.29M194.89,240.22H198.29M204.42,230.94V234.89M202.72,230.94H206.12M202.72,234.89H206.12M212.24,227.47V231.17M210.54,227.47H213.94M210.54,231.17H213.94M220.07,230.52V234.44M218.37,230.52H221.77M218.37,234.44H221.77M227.90,224.55V228.05M226.20,224.55H229.60M226.20,228.05H229.60M235.72,219.87V223.08M234.02,219.87H237.42M234.02,223.08H237.42M243.55,217.95V221.04M241.85,217.95H245.25M241.85,221.04H245.25M251.38,212.74V215.54M249.68,212.74H253.08M249.68,215.54H253.08M259.20,209.04V211.65M257.50,209.04H260.90M257.50,211.65H260.90M267.03,205.15V207.58M265.33,205.15H268.73M265.33,207.58H268.73M274.86,203.32V205.68M273.16,203.32H276.56M273.16,205.68H276.56M282.68,198.01V200.15M280.98,198.01H284.38M280.98,200.15H284.38M290.51,192.09V194.00M288.81,192.09H292.21M288.81,194.00H292.21M298.33,184.26V185.91M296.63,184.26H300.03M296.63,185.91H300.03M306.16,180.17V181.70M304.46,180.17H307.86M304.46,181.70H307.86M313.99,171.87V173.19M312.29,171.87H315.69M312.29,173.19H315.69M321.81,164.15V165.29M320.11,164.15H323.51M320.11,165.29H323.51M329.64,159.50V160.54M327.94,159.50H331.34M327.94,160.54H331.34M337.47,150.69V151.58M335.77,150.69H339.17M335.77,151.58H339.17M345.29,142.33V143.09M343.59,142.33H346.99M343.59,143.09H346.99M353.12,131.15V131.78M351.42,131.15H354.82M351.42,131.78H354.82M360.95,115.94V116.41M359.25,115.94H362.65M359.25,116.41H362.65" fill="none" stroke="#4a4a4a" stroke-width="0.9"/><circle cx="55.71" cy="265.84" r="1.95" fill="none" stroke="#4a4a4a" stroke-width="1.05"/><circle cx="63.54" cy="256.39" r="1.95" fill="none" stroke="#4a4a4a" stroke-width="1.05"/><circle cx="71.37" cy="261.54" r="1.95" fill="none" stroke="#4a4a4a" stroke-width="1.05"/><circle cx="79.19" cy="261.73" r="1.95" fill="none" stroke="#4a4a4a" stroke-width="1.05"/><circle cx="87.02" cy="265.18" r="1.95" fill="none" stroke="#4a4a4a" stroke-width="1.05"/><circle cx="94.85" cy="258.56" r="1.95" fill="none" stroke="#4a4a4a" stroke-width="1.05"/><circle cx="102.67" cy="256.56" r="1.95" fill="none" stroke="#4a4a4a" stroke-width="1.05"/><circle cx="110.50" cy="259.92" r="1.95" fill="none" stroke="#4a4a4a" stroke-width="1.05"/><circle cx="118.33" cy="254.62" r="1.95" fill="none" stroke="#4a4a4a" stroke-width="1.05"/><circle cx="126.15" cy="259.82" r="1.95" fill="none" stroke="#4a4a4a" stroke-width="1.05"/><circle cx="133.98" cy="254.52" r="1.95" fill="none" stroke="#4a4a4a" stroke-width="1.05"/><circle cx="141.80" cy="258.27" r="1.95" fill="none" stroke="#4a4a4a" stroke-width="1.05"/><circle cx="149.63" cy="250.87" r="1.95" fill="none" stroke="#4a4a4a" stroke-width="1.05"/><circle cx="157.46" cy="252.12" r="1.95" fill="none" stroke="#4a4a4a" stroke-width="1.05"/><circle cx="165.28" cy="247.59" r="1.95" fill="none" stroke="#4a4a4a" stroke-width="1.05"/><circle cx="173.11" cy="240.50" r="1.95" fill="none" stroke="#4a4a4a" stroke-width="1.05"/><circle cx="180.94" cy="243.62" r="1.95" fill="none" stroke="#4a4a4a" stroke-width="1.05"/><circle cx="188.76" cy="239.45" r="1.95" fill="none" stroke="#4a4a4a" stroke-width="1.05"/><circle cx="196.59" cy="237.96" r="1.95" fill="none" stroke="#4a4a4a" stroke-width="1.05"/><circle cx="204.42" cy="232.84" r="1.95" fill="none" stroke="#4a4a4a" stroke-width="1.05"/><circle cx="212.24" cy="229.26" r="1.95" fill="none" stroke="#4a4a4a" stroke-width="1.05"/><circle cx="220.07" cy="232.41" r="1.95" fill="none" stroke="#4a4a4a" stroke-width="1.05"/><circle cx="227.90" cy="226.24" r="1.95" fill="none" stroke="#4a4a4a" stroke-width="1.05"/><circle cx="235.72" cy="221.43" r="1.95" fill="none" stroke="#4a4a4a" stroke-width="1.05"/><circle cx="243.55" cy="219.45" r="1.95" fill="none" stroke="#4a4a4a" stroke-width="1.05"/><circle cx="251.38" cy="214.10" r="1.95" fill="none" stroke="#4a4a4a" stroke-width="1.05"/><circle cx="259.20" cy="210.31" r="1.95" fill="none" stroke="#4a4a4a" stroke-width="1.05"/><circle cx="267.03" cy="206.34" r="1.95" fill="none" stroke="#4a4a4a" stroke-width="1.05"/><circle cx="274.86" cy="204.47" r="1.95" fill="none" stroke="#4a4a4a" stroke-width="1.05"/><circle cx="282.68" cy="199.06" r="1.95" fill="none" stroke="#4a4a4a" stroke-width="1.05"/><circle cx="290.51" cy="193.03" r="1.95" fill="none" stroke="#4a4a4a" stroke-width="1.05"/><circle cx="298.33" cy="185.07" r="1.95" fill="none" stroke="#4a4a4a" stroke-width="1.05"/><circle cx="306.16" cy="180.93" r="1.95" fill="none" stroke="#4a4a4a" stroke-width="1.05"/><circle cx="313.99" cy="172.52" r="1.95" fill="none" stroke="#4a4a4a" stroke-width="1.05"/><circle cx="321.81" cy="164.72" r="1.95" fill="none" stroke="#4a4a4a" stroke-width="1.05"/><circle cx="329.64" cy="160.02" r="1.95" fill="none" stroke="#4a4a4a" stroke-width="1.05"/><circle cx="337.47" cy="151.14" r="1.95" fill="none" stroke="#4a4a4a" stroke-width="1.05"/><circle cx="345.29" cy="142.71" r="1.95" fill="none" stroke="#4a4a4a" stroke-width="1.05"/><circle cx="353.12" cy="131.46" r="1.95" fill="none" stroke="#4a4a4a" stroke-width="1.05"/><circle cx="360.95" cy="116.17" r="1.95" fill="none" stroke="#4a4a4a" stroke-width="1.05"/></g>
<line x1="64" y1="62.00" x2="89" y2="62.00" stroke="#b02a50" stroke-width="1"/>
<path d="M76.60,58.60 L79.60,64.60 L73.60,64.60 Z" fill="none" stroke="#b02a50" stroke-width="1.1"/>
<text transform="translate(94,65.30) scale(0.915,1)" font-family="Liberation Sans, sans-serif" font-size="10.5" fill="#000">Pythia 6.427 370</text>
<line x1="64" y1="75.05" x2="89" y2="75.05" stroke="#f5305f" stroke-width="1" stroke-dasharray="2.4 1.9"/>
<circle cx="76.60" cy="75.05" r="2.15" fill="none" stroke="#f5305f" stroke-width="1.05"/>
<text transform="translate(94,78.35) scale(0.915,1)" font-family="Liberation Sans, sans-serif" font-size="10.5" fill="#000">Pythia 6.427 atlas-csc</text>
<line x1="64" y1="88.10" x2="89" y2="88.10" stroke="#2ecb85" stroke-width="1" stroke-dasharray="2.4 1.9"/>
<path d="M76.60,85.87 L78.83,88.10 L76.60,90.33 L74.37,88.10 Z" fill="#2ecb85"/>
<text transform="translate(94,91.40) scale(0.915,1)" font-family="Liberation Sans, sans-serif" font-size="10.5" fill="#000">Pythia 6.427 d6t</text>
<line x1="64" y1="101.15" x2="89" y2="101.15" stroke="#ff7a33" stroke-width="1" stroke-dasharray="4 1.8 1 1.8"/>
<rect x="74.13" y="98.68" width="4.94" height="4.94" fill="#ff7a33"/>
<text transform="translate(94,104.45) scale(0.915,1)" font-family="Liberation Sans, sans-serif" font-size="10.5" fill="#000">Pythia 6.427 default</text>
<line x1="64" y1="114.20" x2="89" y2="114.20" stroke="#14a814" stroke-width="1" stroke-dasharray="3 1.8"/>
<path d="M73.72,112.13 L79.47,112.13 L76.60,117.08 Z" fill="#14a814"/>
<text transform="translate(94,117.50) scale(0.915,1)" font-family="Liberation Sans, sans-serif" font-size="10.5" fill="#000">Pythia 6.427 dw</text>
<line x1="64" y1="127.25" x2="89" y2="127.25" stroke="#4a4a4a" stroke-width="1"/>
<circle cx="76.60" cy="127.25" r="2.15" fill="none" stroke="#4a4a4a" stroke-width="1.05"/>
<text transform="translate(94,130.55) scale(0.915,1)" font-family="Liberation Sans, sans-serif" font-size="10.5" fill="#000">Pythia 6.427 p0</text>
<text x="50.6" y="14.3" font-family="Liberation Sans, sans-serif" font-size="12.3" fill="#000">7000 GeV pp</text>
<text x="368" y="14.3" font-family="Liberation Sans, sans-serif" font-size="12.2" fill="#000" text-anchor="end">Top (parton level)</text>
<text x="162" y="43.2" font-family="Liberation Sans, sans-serif" font-size="10.2" fill="#000">Δϕ (ttbar) (Mtt &gt; 450)</text>
<text x="173.5" y="301.7" font-family="Liberation Sans, sans-serif" font-size="8" fill="#999">(MC_FBA_TTBAR)</text>
<text transform="translate(380.3,17.8) rotate(-90)" font-family="Liberation Sans, sans-serif" font-size="9.6" fill="#777" text-anchor="end">Rivet 4.1.0, ≥ 100k events</text>
<text transform="translate(381.3,166.3) rotate(-90)" font-family="Liberation Sans, sans-serif" font-size="9.5" fill="#777" text-anchor="end">mcplots.cern.ch [arXiv:2401.10621]</text>
<text transform="translate(17.1,447.2) rotate(-90)" font-family="Liberation Sans, sans-serif" font-size="9" fill="#000">Ratio to Pythia 6.427 370</text>
<path d="M51.80,17.50L51.80,25.80M51.80,317.50L51.80,309.20M51.80,317.50L51.80,322.90M51.80,477.50L51.80,472.10M61.77,17.50L61.77,19.90M61.77,317.50L61.77,315.10M61.77,317.50L61.77,318.80M61.77,477.50L61.77,476.20M71.73,17.50L71.73,21.80M71.73,317.50L71.73,313.20M71.73,317.50L71.73,319.80M71.73,477.50L71.73,475.20M81.69,17.50L81.69,19.90M81.69,317.50L81.69,315.10M81.69,317.50L81.69,318.80M81.69,477.50L81.69,476.20M91.66,17.50L91.66,21.80M91.66,317.50L91.66,313.20M91.66,317.50L91.66,319.80M91.66,477.50L91.66,475.20M101.62,17.50L101.62,19.90M101.62,317.50L101.62,315.10M101.62,317.50L101.62,318.80M101.62,477.50L101.62,476.20M111.59,17.50L111.59,21.80M111.59,317.50L111.59,313.20M111.59,317.50L111.59,319.80M111.59,477.50L111.59,475.20M121.55,17.50L121.55,19.90M121.55,317.50L121.55,315.10M121.55,317.50L121.55,318.80M121.55,477.50L121.55,476.20M131.52,17.50L131.52,21.80M131.52,317.50L131.52,313.20M131.52,317.50L131.52,319.80M131.52,477.50L131.52,475.20M141.49,17.50L141.49,19.90M141.49,317.50L141.49,315.10M141.49,317.50L141.49,318.80M141.49,477.50L141.49,476.20M151.45,17.50L151.45,25.80M151.45,317.50L151.45,309.20M151.45,317.50L151.45,322.90M151.45,477.50L151.45,472.10M161.42,17.50L161.42,19.90M161.42,317.50L161.42,315.10M161.42,317.50L161.42,318.80M161.42,477.50L161.42,476.20M171.38,17.50L171.38,21.80M171.38,317.50L171.38,313.20M171.38,317.50L171.38,319.80M171.38,477.50L171.38,475.20M181.35,17.50L181.35,19.90M181.35,317.50L181.35,315.10M181.35,317.50L181.35,318.80M181.35,477.50L181.35,476.20M191.31,17.50L191.31,21.80M191.31,317.50L191.31,313.20M191.31,317.50L191.31,319.80M191.31,477.50L191.31,475.20M201.28,17.50L201.28,19.90M201.28,317.50L201.28,315.10M201.28,317.50L201.28,318.80M201.28,477.50L201.28,476.20M211.24,17.50L211.24,21.80M211.24,317.50L211.24,313.20M211.24,317.50L211.24,319.80M211.24,477.50L211.24,475.20M221.20,17.50L221.20,19.90M221.20,317.50L221.20,315.10M221.20,317.50L221.20,318.80M221.20,477.50L221.20,476.20M231.17,17.50L231.17,21.80M231.17,317.50L231.17,313.20M231.17,317.50L231.17,319.80M231.17,477.50L231.17,475.20M241.13,17.50L241.13,19.90M241.13,317.50L241.13,315.10M241.13,317.50L241.13,318.80M241.13,477.50L241.13,476.20M251.10,17.50L251.10,25.80M251.10,317.50L251.10,309.20M251.10,317.50L251.10,322.90M251.10,477.50L251.10,472.10M261.06,17.50L261.06,19.90M261.06,317.50L261.06,315.10M261.06,317.50L261.06,318.80M261.06,477.50L261.06,476.20M271.03,17.50L271.03,21.80M271.03,317.50L271.03,313.20M271.03,317.50L271.03,319.80M271.03,477.50L271.03,475.20M281.00,17.50L281.00,19.90M281.00,317.50L281.00,315.10M281.00,317.50L281.00,318.80M281.00,477.50L281.00,476.20M290.96,17.50L290.96,21.80M290.96,317.50L290.96,313.20M290.96,317.50L290.96,319.80M290.96,477.50L290.96,475.20M300.93,17.50L300.93,19.90M300.93,317.50L300.93,315.10M300.93,317.50L300.93,318.80M300.93,477.50L300.93,476.20M310.89,17.50L310.89,21.80M310.89,317.50L310.89,313.20M310.89,317.50L310.89,319.80M310.89,477.50L310.89,475.20M320.86,17.50L320.86,19.90M320.86,317.50L320.86,315.10M320.86,317.50L320.86,318.80M320.86,477.50L320.86,476.20M330.82,17.50L330.82,21.80M330.82,317.50L330.82,313.20M330.82,317.50L330.82,319.80M330.82,477.50L330.82,475.20M340.79,17.50L340.79,19.90M340.79,317.50L340.79,315.10M340.79,317.50L340.79,318.80M340.79,477.50L340.79,476.20M350.75,17.50L350.75,25.80M350.75,317.50L350.75,309.20M350.75,317.50L350.75,322.90M350.75,477.50L350.75,472.10M360.72,17.50L360.72,19.90M360.72,317.50L360.72,315.10M360.72,317.50L360.72,318.80M360.72,477.50L360.72,476.20M370.68,17.50L370.68,21.80M370.68,317.50L370.68,313.20M370.68,317.50L370.68,319.80M370.68,477.50L370.68,475.20M45.50,299.97L50.90,299.97M371.10,299.97L365.70,299.97M45.50,288.85L50.90,288.85M371.10,288.85L365.70,288.85M45.50,280.95L50.90,280.95M371.10,280.95L365.70,280.95M45.50,274.83L50.90,274.83M371.10,274.83L365.70,274.83M45.50,269.82L50.90,269.82M371.10,269.82L365.70,269.82M45.50,265.59L50.90,265.59M371.10,265.59L365.70,265.59M45.50,261.92L50.90,261.92M371.10,261.92L365.70,261.92M45.50,258.69L50.90,258.69M371.10,258.69L365.70,258.69M45.50,255.80L56.80,255.80M371.10,255.80L359.80,255.80M45.50,236.77L50.90,236.77M371.10,236.77L365.70,236.77M45.50,225.65L50.90,225.65M371.10,225.65L365.70,225.65M45.50,217.75L50.90,217.75M371.10,217.75L365.70,217.75M45.50,211.63L50.90,211.63M371.10,211.63L365.70,211.63M45.50,206.62L50.90,206.62M371.10,206.62L365.70,206.62M45.50,202.39L50.90,202.39M371.10,202.39L365.70,202.39M45.50,198.72L50.90,198.72M371.10,198.72L365.70,198.72M45.50,195.49L50.90,195.49M371.10,195.49L365.70,195.49M45.50,192.60L56.80,192.60M371.10,192.60L359.80,192.60M45.50,173.57L50.90,173.57M371.10,173.57L365.70,173.57M45.50,162.45L50.90,162.45M371.10,162.45L365.70,162.45M45.50,154.55L50.90,154.55M371.10,154.55L365.70,154.55M45.50,148.43L50.90,148.43M371.10,148.43L365.70,148.43M45.50,143.42L50.90,143.42M371.10,143.42L365.70,143.42M45.50,139.19L50.90,139.19M371.10,139.19L365.70,139.19M45.50,135.52L50.90,135.52M371.10,135.52L365.70,135.52M45.50,132.29L50.90,132.29M371.10,132.29L365.70,132.29M45.50,129.40L56.80,129.40M371.10,129.40L359.80,129.40M45.50,110.37L50.90,110.37M371.10,110.37L365.70,110.37M45.50,99.25L50.90,99.25M371.10,99.25L365.70,99.25M45.50,91.35L50.90,91.35M371.10,91.35L365.70,91.35M45.50,85.23L50.90,85.23M371.10,85.23L365.70,85.23M45.50,80.22L50.90,80.22M371.10,80.22L365.70,80.22M45.50,75.99L50.90,75.99M371.10,75.99L365.70,75.99M45.50,72.32L50.90,72.32M371.10,72.32L365.70,72.32M45.50,69.09L50.90,69.09M371.10,69.09L365.70,69.09M45.50,66.20L56.80,66.20M371.10,66.20L359.80,66.20M45.50,47.17L50.90,47.17M371.10,47.17L365.70,47.17M45.50,36.05L50.90,36.05M371.10,36.05L365.70,36.05M45.50,28.15L50.90,28.15M371.10,28.15L365.70,28.15M45.50,22.03L50.90,22.03M371.10,22.03L365.70,22.03M45.50,320.76L51.00,320.76M371.10,320.76L365.60,320.76M45.50,324.48L51.00,324.48M371.10,324.48L365.60,324.48M45.50,328.37L51.00,328.37M371.10,328.37L365.60,328.37M45.50,332.44L51.00,332.44M371.10,332.44L365.60,332.44M45.50,336.70L53.10,336.70M371.10,336.70L363.50,336.70M45.50,341.19L51.00,341.19M371.10,341.19L365.60,341.19M45.50,345.91L51.00,345.91M371.10,345.91L365.60,345.91M45.50,350.91L51.00,350.91M371.10,350.91L365.60,350.91M45.50,356.21L51.00,356.21M371.10,356.21L365.60,356.21M45.50,361.85L53.10,361.85M371.10,361.85L363.50,361.85M45.50,367.88L51.00,367.88M371.10,367.88L365.60,367.88M45.50,374.36L51.00,374.36M371.10,374.36L365.60,374.36M45.50,381.36L51.00,381.36M371.10,381.36L365.60,381.36M45.50,388.97L51.00,388.97M371.10,388.97L365.60,388.97M45.50,397.30L53.10,397.30M371.10,397.30L363.50,397.30M45.50,406.51L51.00,406.51M371.10,406.51L365.60,406.51M45.50,416.81L51.00,416.81M371.10,416.81L365.60,416.81M45.50,428.48L51.00,428.48M371.10,428.48L365.60,428.48M45.50,441.96L51.00,441.96M371.10,441.96L365.60,441.96M45.50,457.90L53.10,457.90M371.10,457.90L363.50,457.90" stroke="#000" stroke-width="1" fill="none"/>
<rect x="45.5" y="17.5" width="325.60" height="300.00" fill="none" stroke="#000" stroke-width="1.2"/>
<rect x="45.5" y="317.5" width="325.60" height="160.00" fill="none" stroke="#000" stroke-width="1.2"/>
<text x="23.8" y="72.1" font-family="Liberation Sans, sans-serif" font-size="10.6" letter-spacing="-0.5">10<tspan dx="0.8" dy="-4.6" font-size="7.6" letter-spacing="0">3</tspan></text>
<text x="23.8" y="135.3" font-family="Liberation Sans, sans-serif" font-size="10.6" letter-spacing="-0.5">10<tspan dx="0.8" dy="-4.6" font-size="7.6" letter-spacing="0">2</tspan></text>
<text x="40.3" y="196.70" font-family="Liberation Sans, sans-serif" font-size="10.6" text-anchor="end" letter-spacing="0.6">10</text>
<text x="40" y="259.90" font-family="Liberation Sans, sans-serif" font-size="10.6" text-anchor="end">1</text>
<text x="38.5" y="340.80" font-family="Liberation Sans, sans-serif" font-size="11" text-anchor="end">2</text>
<text x="374" y="340.80" font-family="Liberation Sans, sans-serif" font-size="11" text-anchor="start">2</text>
<text x="38.5" y="401.40" font-family="Liberation Sans, sans-serif" font-size="11" text-anchor="end">1</text>
<text x="374" y="401.40" font-family="Liberation Sans, sans-serif" font-size="11" text-anchor="start">1</text>
<text x="38.5" y="462.00" font-family="Liberation Sans, sans-serif" font-size="11" text-anchor="end">0.5</text>
<text x="374" y="462.00" font-family="Liberation Sans, sans-serif" font-size="11" text-anchor="start">0.5</text>
<text x="52.099999999999994" y="489.00" font-family="Liberation Sans, sans-serif" font-size="11" text-anchor="middle">0</text>
<text x="151.75" y="489.00" font-family="Liberation Sans, sans-serif" font-size="11" text-anchor="middle">1</text>
<text x="251.40000000000003" y="489.00" font-family="Liberation Sans, sans-serif" font-size="11" text-anchor="middle">2</text>
<text x="351.05000000000007" y="489.00" font-family="Liberation Sans, sans-serif" font-size="11" text-anchor="middle">3</text>
</svg></body></html>
